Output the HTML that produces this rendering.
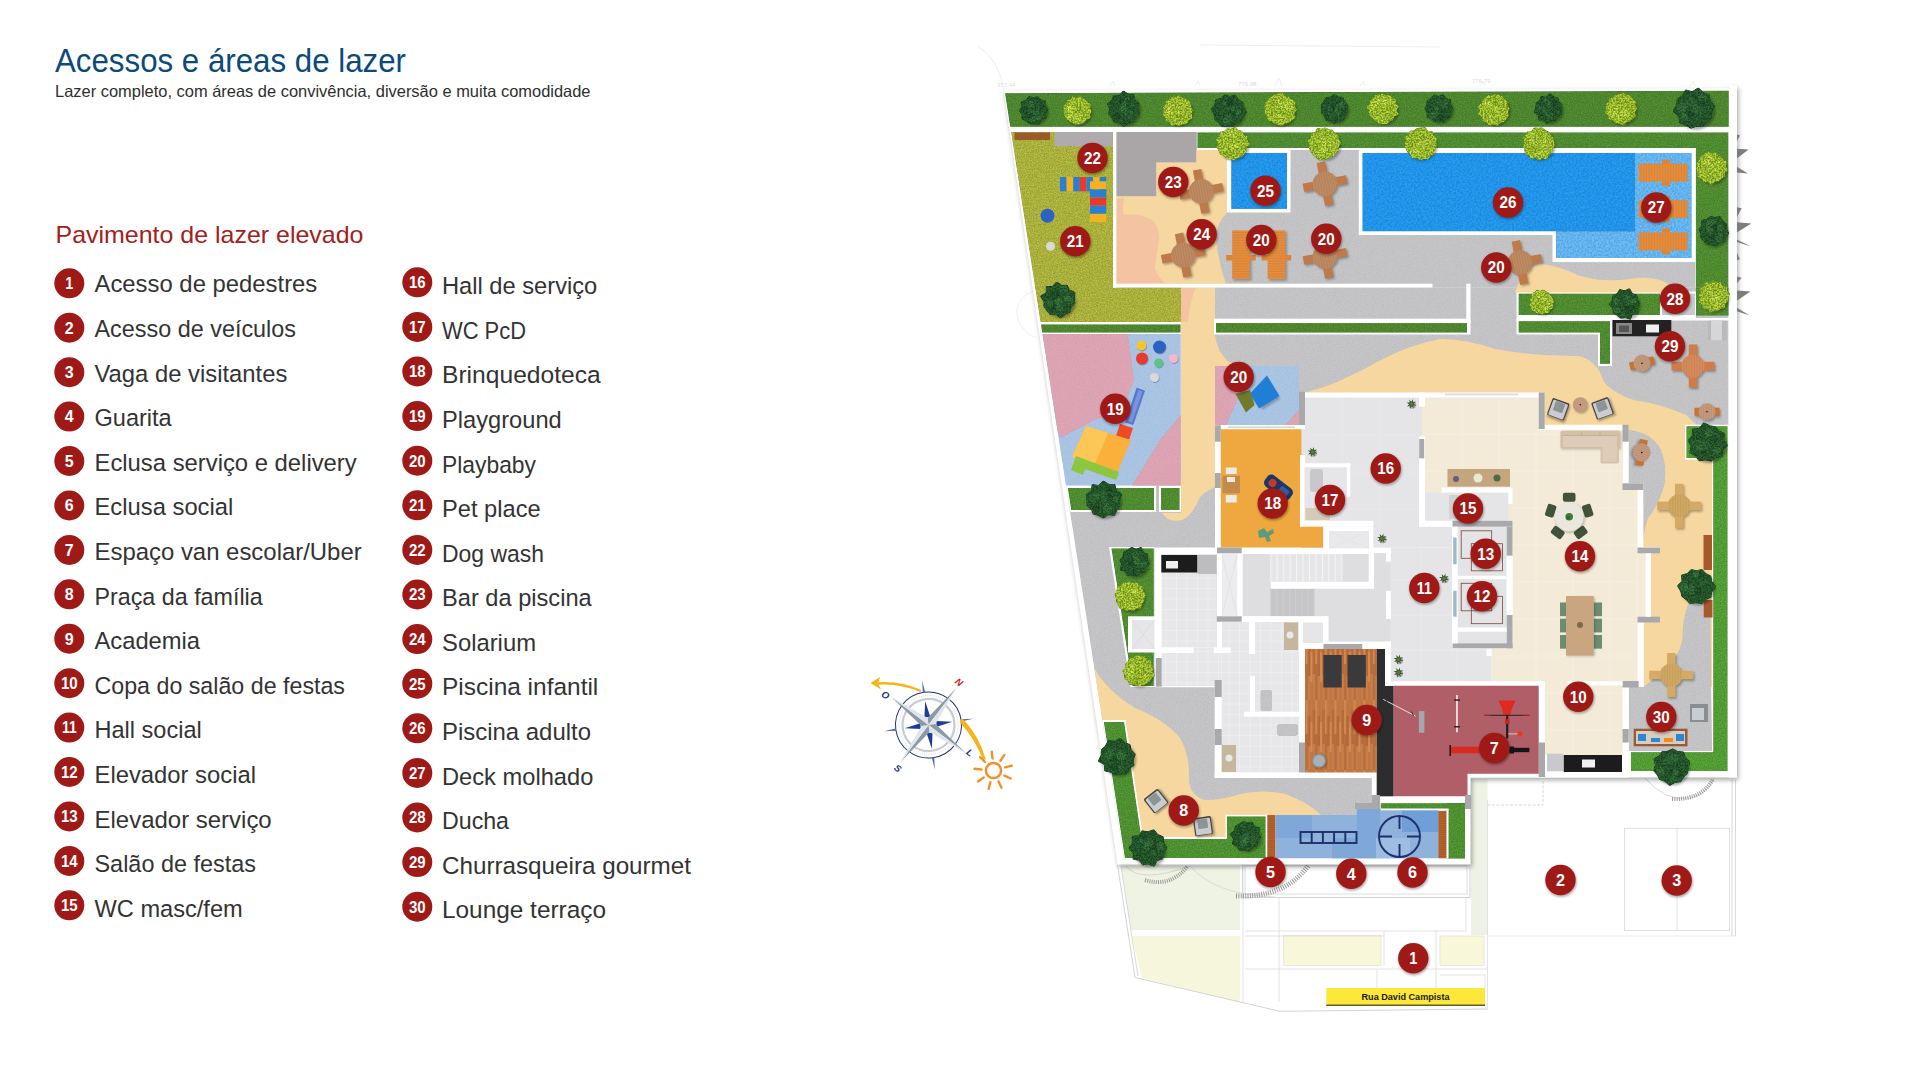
<!DOCTYPE html>
<html><head><meta charset="utf-8"><title>Acessos e áreas de lazer</title>
<style>
html,body{margin:0;padding:0;background:#fff;width:1920px;height:1080px;overflow:hidden}
svg{display:block;position:absolute;left:0;top:0}
text{font-family:"Liberation Sans",sans-serif}
</style></head><body>
<svg width="1920" height="1080" viewBox="0 0 1920 1080">
<defs>
<filter id="bl1" x="-30%" y="-30%" width="160%" height="160%"><feGaussianBlur stdDeviation="1.2"/></filter>
<filter id="bl2" x="-10%" y="-10%" width="120%" height="120%"><feGaussianBlur stdDeviation="2.5"/></filter>
<filter id="bl05" x="-10%" y="-10%" width="120%" height="120%"><feGaussianBlur stdDeviation="0.6"/></filter>
<filter id="grain" x="0" y="0" width="100%" height="100%">
 <feTurbulence type="fractalNoise" baseFrequency="0.9" numOctaves="2" seed="3" result="n"/>
 <feColorMatrix in="n" type="matrix" values="0 0 0 0 0  0 0 0 0 0  0 0 0 0 0  0.9 0.9 0.9 0 -1.05" result="a"/>
 <feComposite in="a" in2="SourceGraphic" operator="in"/>
</filter>
<filter id="texGrass" x="0" y="0" width="100%" height="100%" color-interpolation-filters="sRGB">
 <feTurbulence type="fractalNoise" baseFrequency="0.75" numOctaves="2" seed="5" result="n"/>
 <feColorMatrix in="n" type="matrix" values="2.2 0 0 0 -0.6  2.2 0 0 0 -0.6  2.2 0 0 0 -0.6  0 0 0 0 1" result="g"/>
 <feComposite in="SourceGraphic" in2="g" operator="arithmetic" k1="0.2" k2="0.9" k3="0" k4="0"/>
</filter>
<filter id="texLeaf" x="-10%" y="-10%" width="120%" height="120%" color-interpolation-filters="sRGB">
 <feTurbulence type="fractalNoise" baseFrequency="0.6" numOctaves="2" seed="11" result="n"/>
 <feColorMatrix in="n" type="matrix" values="3 0 0 0 -1  3 0 0 0 -1  3 0 0 0 -1  0 0 0 0 1" result="g"/>
 <feComposite in="SourceGraphic" in2="g" operator="arithmetic" k1="0.45" k2="0.78" k3="0" k4="0"/>
</filter>
<filter id="texWater" x="0" y="0" width="100%" height="100%" color-interpolation-filters="sRGB">
 <feTurbulence type="fractalNoise" baseFrequency="0.55" numOctaves="2" seed="9" result="n"/>
 <feColorMatrix in="n" type="matrix" values="2.4 0 0 0 -0.7  2.4 0 0 0 -0.7  2.4 0 0 0 -0.7  0 0 0 0 1" result="g"/>
 <feComposite in="SourceGraphic" in2="g" operator="arithmetic" k1="0.16" k2="0.93" k3="0" k4="0"/>
</filter>
<filter id="texPave" x="0" y="0" width="100%" height="100%" color-interpolation-filters="sRGB">
 <feTurbulence type="fractalNoise" baseFrequency="1.1" numOctaves="1" seed="2" result="n"/>
 <feColorMatrix in="n" type="matrix" values="2 0 0 0 -0.5  2 0 0 0 -0.5  2 0 0 0 -0.5  0 0 0 0 1" result="g"/>
 <feComposite in="SourceGraphic" in2="g" operator="arithmetic" k1="0.06" k2="0.97" k3="0" k4="0"/>
</filter>
<pattern id="wood" width="9.6" height="70" patternUnits="userSpaceOnUse">
 <rect width="9.6" height="70" fill="#c27843"/>
 <rect x="0" y="0" width="2.4" height="34" fill="#cf884e"/>
 <rect x="0" y="34" width="2.4" height="36" fill="#b96d3d"/>
 <rect x="2.4" y="16" width="2.4" height="30" fill="#b4683a"/>
 <rect x="2.4" y="46" width="2.4" height="24" fill="#ca8149"/>
 <rect x="4.8" y="0" width="2.4" height="22" fill="#c47a44"/>
 <rect x="4.8" y="22" width="2.4" height="30" fill="#d38d52"/>
 <rect x="7.2" y="10" width="2.4" height="34" fill="#b76b3c"/>
 <rect x="7.2" y="44" width="2.4" height="26" fill="#c87f47"/>
 <path d="M2.4,0V70M4.8,0V70M7.2,0V70M9.5,0V70" stroke="#a85f33" stroke-width="0.35" stroke-opacity="0.6"/>
</pattern>
<pattern id="tile" width="10.5" height="10.5" patternUnits="userSpaceOnUse">
 <rect width="10.5" height="10.5" fill="#e7e7e9"/>
 <path d="M0 0.25H10.5M0.25 0V10.5" stroke="#f2f2f4" stroke-width="0.7" fill="none"/>
</pattern>
</defs>
<g id="legend">
<text x="55" y="71.5" font-size="33" fill="#0b4a7a" textLength="351" lengthAdjust="spacingAndGlyphs">Acessos e áreas de lazer</text>
<text x="55" y="97" font-size="16.5" fill="#2e2e2e" textLength="535.5" lengthAdjust="spacingAndGlyphs">Lazer completo, com áreas de convivência, diversão e muita comodidade</text>
<text x="55.5" y="243.3" font-size="24" fill="#a32020" textLength="308" lengthAdjust="spacingAndGlyphs">Pavimento de lazer elevado</text>
<circle cx="69.3" cy="283.3" r="15.0" fill="#9f1a17"/><text x="69.3" y="289.1" font-size="16.1" font-weight="bold" fill="#fff" text-anchor="middle" textLength="8.0" lengthAdjust="spacingAndGlyphs">1</text>
<text x="94.5" y="292.3" font-size="24.5" fill="#333333" textLength="222.8" lengthAdjust="spacingAndGlyphs">Acesso de pedestres</text>
<circle cx="69.3" cy="327.7" r="15.0" fill="#9f1a17"/><text x="69.3" y="333.5" font-size="16.1" font-weight="bold" fill="#fff" text-anchor="middle" textLength="8.9" lengthAdjust="spacingAndGlyphs">2</text>
<text x="94.5" y="336.9" font-size="24.5" fill="#333333" textLength="201.5" lengthAdjust="spacingAndGlyphs">Acesso de veículos</text>
<circle cx="69.3" cy="372.2" r="15.0" fill="#9f1a17"/><text x="69.3" y="377.9" font-size="16.1" font-weight="bold" fill="#fff" text-anchor="middle" textLength="8.9" lengthAdjust="spacingAndGlyphs">3</text>
<text x="94.5" y="381.5" font-size="24.5" fill="#333333" textLength="192.8" lengthAdjust="spacingAndGlyphs">Vaga de visitantes</text>
<circle cx="69.3" cy="416.6" r="15.0" fill="#9f1a17"/><text x="69.3" y="422.4" font-size="16.1" font-weight="bold" fill="#fff" text-anchor="middle" textLength="8.9" lengthAdjust="spacingAndGlyphs">4</text>
<text x="94.5" y="426.1" font-size="24.5" fill="#333333" textLength="77.2" lengthAdjust="spacingAndGlyphs">Guarita</text>
<circle cx="69.3" cy="461.0" r="15.0" fill="#9f1a17"/><text x="69.3" y="466.8" font-size="16.1" font-weight="bold" fill="#fff" text-anchor="middle" textLength="8.9" lengthAdjust="spacingAndGlyphs">5</text>
<text x="94.5" y="470.7" font-size="24.5" fill="#333333" textLength="262.2" lengthAdjust="spacingAndGlyphs">Eclusa serviço e delivery</text>
<circle cx="69.3" cy="505.5" r="15.0" fill="#9f1a17"/><text x="69.3" y="511.2" font-size="16.1" font-weight="bold" fill="#fff" text-anchor="middle" textLength="8.9" lengthAdjust="spacingAndGlyphs">6</text>
<text x="94.5" y="515.3" font-size="24.5" fill="#333333" textLength="138.8" lengthAdjust="spacingAndGlyphs">Eclusa social</text>
<circle cx="69.3" cy="549.9" r="15.0" fill="#9f1a17"/><text x="69.3" y="555.7" font-size="16.1" font-weight="bold" fill="#fff" text-anchor="middle" textLength="8.9" lengthAdjust="spacingAndGlyphs">7</text>
<text x="94.5" y="559.9" font-size="24.5" fill="#333333" textLength="267.2" lengthAdjust="spacingAndGlyphs">Espaço van escolar/Uber</text>
<circle cx="69.3" cy="594.3" r="15.0" fill="#9f1a17"/><text x="69.3" y="600.1" font-size="16.1" font-weight="bold" fill="#fff" text-anchor="middle" textLength="8.9" lengthAdjust="spacingAndGlyphs">8</text>
<text x="94.5" y="604.5" font-size="24.5" fill="#333333" textLength="168.2" lengthAdjust="spacingAndGlyphs">Praça da família</text>
<circle cx="69.3" cy="638.7" r="15.0" fill="#9f1a17"/><text x="69.3" y="644.5" font-size="16.1" font-weight="bold" fill="#fff" text-anchor="middle" textLength="8.9" lengthAdjust="spacingAndGlyphs">9</text>
<text x="94.5" y="649.1" font-size="24.5" fill="#333333" textLength="105.5" lengthAdjust="spacingAndGlyphs">Academia</text>
<circle cx="69.3" cy="683.2" r="15.0" fill="#9f1a17"/><text x="69.3" y="688.9" font-size="16.1" font-weight="bold" fill="#fff" text-anchor="middle" textLength="16.7" lengthAdjust="spacingAndGlyphs">10</text>
<text x="94.5" y="693.7" font-size="24.5" fill="#333333" textLength="250.5" lengthAdjust="spacingAndGlyphs">Copa do salão de festas</text>
<circle cx="69.3" cy="727.6" r="15.0" fill="#9f1a17"/><text x="69.3" y="733.4" font-size="16.1" font-weight="bold" fill="#fff" text-anchor="middle" textLength="14.8" lengthAdjust="spacingAndGlyphs">11</text>
<text x="94.5" y="738.3" font-size="24.5" fill="#333333" textLength="107.2" lengthAdjust="spacingAndGlyphs">Hall social</text>
<circle cx="69.3" cy="772.0" r="15.0" fill="#9f1a17"/><text x="69.3" y="777.8" font-size="16.1" font-weight="bold" fill="#fff" text-anchor="middle" textLength="16.7" lengthAdjust="spacingAndGlyphs">12</text>
<text x="94.5" y="782.9" font-size="24.5" fill="#333333" textLength="161.5" lengthAdjust="spacingAndGlyphs">Elevador social</text>
<circle cx="69.3" cy="816.5" r="15.0" fill="#9f1a17"/><text x="69.3" y="822.2" font-size="16.1" font-weight="bold" fill="#fff" text-anchor="middle" textLength="16.7" lengthAdjust="spacingAndGlyphs">13</text>
<text x="94.5" y="827.5" font-size="24.5" fill="#333333" textLength="177.2" lengthAdjust="spacingAndGlyphs">Elevador serviço</text>
<circle cx="69.3" cy="860.9" r="15.0" fill="#9f1a17"/><text x="69.3" y="866.7" font-size="16.1" font-weight="bold" fill="#fff" text-anchor="middle" textLength="16.7" lengthAdjust="spacingAndGlyphs">14</text>
<text x="94.5" y="872.1" font-size="24.5" fill="#333333" textLength="161.5" lengthAdjust="spacingAndGlyphs">Salão de festas</text>
<circle cx="69.3" cy="905.3" r="15.0" fill="#9f1a17"/><text x="69.3" y="911.1" font-size="16.1" font-weight="bold" fill="#fff" text-anchor="middle" textLength="16.7" lengthAdjust="spacingAndGlyphs">15</text>
<text x="94.5" y="916.7" font-size="24.5" fill="#333333" textLength="148.2" lengthAdjust="spacingAndGlyphs">WC masc/fem</text>
<circle cx="417.3" cy="282.3" r="15.0" fill="#9f1a17"/><text x="417.3" y="288.1" font-size="16.1" font-weight="bold" fill="#fff" text-anchor="middle" textLength="16.7" lengthAdjust="spacingAndGlyphs">16</text>
<text x="442" y="294.3" font-size="24.5" fill="#333333" textLength="155.3" lengthAdjust="spacingAndGlyphs">Hall de serviço</text>
<circle cx="417.3" cy="326.9" r="15.0" fill="#9f1a17"/><text x="417.3" y="332.7" font-size="16.1" font-weight="bold" fill="#fff" text-anchor="middle" textLength="16.7" lengthAdjust="spacingAndGlyphs">17</text>
<text x="442" y="338.9" font-size="24.5" fill="#333333" textLength="84.0" lengthAdjust="spacingAndGlyphs">WC PcD</text>
<circle cx="417.3" cy="371.5" r="15.0" fill="#9f1a17"/><text x="417.3" y="377.3" font-size="16.1" font-weight="bold" fill="#fff" text-anchor="middle" textLength="16.7" lengthAdjust="spacingAndGlyphs">18</text>
<text x="442" y="383.4" font-size="24.5" fill="#333333" textLength="158.7" lengthAdjust="spacingAndGlyphs">Brinquedoteca</text>
<circle cx="417.3" cy="416.1" r="15.0" fill="#9f1a17"/><text x="417.3" y="421.9" font-size="16.1" font-weight="bold" fill="#fff" text-anchor="middle" textLength="16.7" lengthAdjust="spacingAndGlyphs">19</text>
<text x="442" y="428.0" font-size="24.5" fill="#333333" textLength="119.7" lengthAdjust="spacingAndGlyphs">Playground</text>
<circle cx="417.3" cy="460.7" r="15.0" fill="#9f1a17"/><text x="417.3" y="466.5" font-size="16.1" font-weight="bold" fill="#fff" text-anchor="middle" textLength="16.7" lengthAdjust="spacingAndGlyphs">20</text>
<text x="442" y="472.6" font-size="24.5" fill="#333333" textLength="94.0" lengthAdjust="spacingAndGlyphs">Playbaby</text>
<circle cx="417.3" cy="505.3" r="15.0" fill="#9f1a17"/><text x="417.3" y="511.1" font-size="16.1" font-weight="bold" fill="#fff" text-anchor="middle" textLength="16.7" lengthAdjust="spacingAndGlyphs">21</text>
<text x="442" y="517.1" font-size="24.5" fill="#333333" textLength="98.7" lengthAdjust="spacingAndGlyphs">Pet place</text>
<circle cx="417.3" cy="549.9" r="15.0" fill="#9f1a17"/><text x="417.3" y="555.7" font-size="16.1" font-weight="bold" fill="#fff" text-anchor="middle" textLength="16.7" lengthAdjust="spacingAndGlyphs">22</text>
<text x="442" y="561.7" font-size="24.5" fill="#333333" textLength="102.0" lengthAdjust="spacingAndGlyphs">Dog wash</text>
<circle cx="417.3" cy="594.5" r="15.0" fill="#9f1a17"/><text x="417.3" y="600.3" font-size="16.1" font-weight="bold" fill="#fff" text-anchor="middle" textLength="16.7" lengthAdjust="spacingAndGlyphs">23</text>
<text x="442" y="606.3" font-size="24.5" fill="#333333" textLength="149.7" lengthAdjust="spacingAndGlyphs">Bar da piscina</text>
<circle cx="417.3" cy="639.1" r="15.0" fill="#9f1a17"/><text x="417.3" y="644.9" font-size="16.1" font-weight="bold" fill="#fff" text-anchor="middle" textLength="16.7" lengthAdjust="spacingAndGlyphs">24</text>
<text x="442" y="650.9" font-size="24.5" fill="#333333" textLength="94.0" lengthAdjust="spacingAndGlyphs">Solarium</text>
<circle cx="417.3" cy="683.7" r="15.0" fill="#9f1a17"/><text x="417.3" y="689.5" font-size="16.1" font-weight="bold" fill="#fff" text-anchor="middle" textLength="16.7" lengthAdjust="spacingAndGlyphs">25</text>
<text x="442" y="695.4" font-size="24.5" fill="#333333" textLength="156.3" lengthAdjust="spacingAndGlyphs">Piscina infantil</text>
<circle cx="417.3" cy="728.3" r="15.0" fill="#9f1a17"/><text x="417.3" y="734.1" font-size="16.1" font-weight="bold" fill="#fff" text-anchor="middle" textLength="16.7" lengthAdjust="spacingAndGlyphs">26</text>
<text x="442" y="740.0" font-size="24.5" fill="#333333" textLength="149.0" lengthAdjust="spacingAndGlyphs">Piscina adulto</text>
<circle cx="417.3" cy="772.9" r="15.0" fill="#9f1a17"/><text x="417.3" y="778.7" font-size="16.1" font-weight="bold" fill="#fff" text-anchor="middle" textLength="16.7" lengthAdjust="spacingAndGlyphs">27</text>
<text x="442" y="784.6" font-size="24.5" fill="#333333" textLength="151.3" lengthAdjust="spacingAndGlyphs">Deck molhado</text>
<circle cx="417.3" cy="817.5" r="15.0" fill="#9f1a17"/><text x="417.3" y="823.3" font-size="16.1" font-weight="bold" fill="#fff" text-anchor="middle" textLength="16.7" lengthAdjust="spacingAndGlyphs">28</text>
<text x="442" y="829.1" font-size="24.5" fill="#333333" textLength="67.0" lengthAdjust="spacingAndGlyphs">Ducha</text>
<circle cx="417.3" cy="862.1" r="15.0" fill="#9f1a17"/><text x="417.3" y="867.9" font-size="16.1" font-weight="bold" fill="#fff" text-anchor="middle" textLength="16.7" lengthAdjust="spacingAndGlyphs">29</text>
<text x="442" y="873.7" font-size="24.5" fill="#333333" textLength="249.0" lengthAdjust="spacingAndGlyphs">Churrasqueira gourmet</text>
<circle cx="417.3" cy="906.7" r="15.0" fill="#9f1a17"/><text x="417.3" y="912.5" font-size="16.1" font-weight="bold" fill="#fff" text-anchor="middle" textLength="16.7" lengthAdjust="spacingAndGlyphs">30</text>
<text x="442" y="918.3" font-size="24.5" fill="#333333" textLength="164.0" lengthAdjust="spacingAndGlyphs">Lounge terraço</text>
</g>
<g id="site" fill="none" stroke="#d9d9d9" stroke-width="0.8">
<polygon points="1121.0,866.0 1240.0,866.0 1240.0,930.0 1131.0,930.0" fill="#eef3e3" stroke="none"/>
<polygon points="1132.0,936.0 1240.0,936.0 1240.0,1002.0 1142.0,978.0" fill="#f6f6dc" stroke="none"/>
<rect x="1283.7" y="935.5" width="97.3" height="30.0" fill="#f8f7da" stroke="#e3e3d8"/>
<rect x="1440.0" y="936.0" width="44.0" height="29.5" fill="#f8f7da" stroke="#e3e3d8"/>
<rect x="1471.0" y="779.0" width="16.5" height="156.0" fill="#eef2e4" stroke="none"/>
<rect x="1242.5" y="865.0" width="227.5" height="32.5" fill="none" stroke="#c9c9c9"/>
<rect x="1245.0" y="866.0" width="222.0" height="28.0" fill="none" stroke="#d5d5d5"/>
<path d="M1117.5,865L1135,977.5L1280,1011.3L1488,1009" stroke="#c8c8c8"/>
<path d="M1121,866L1138,976" stroke="#d0d0d0"/>
<path d="M1243,865V1003M1279,897V1002M1245,931H1466M1245,936H1384M1245,969H1487M1377,969V988M1384,931V966M1436,931V988M1440,975H1485V988M1466,897V931M1487.5,800V1009" stroke="#dcdcdc"/>
<path d="M1487.5,936H1736" stroke="#e4e4e4"/>
<rect x="1624.5" y="828.3" width="105.0" height="102.2" fill="none" stroke="#d8d8d8"/>
<path d="M1677,828V930.5" stroke="#dadada"/>
<path d="M1732,780V936M1735.5,780V936" stroke="#cfcfcf"/>
<path d="M1487.5,805H1543V780" stroke="#cfcfcf" stroke-dasharray="3 1.5"/>
<path d="M1126,866Q1140,884 1190,866" stroke="#cfcfcf"/>
<path d="M1190,866Q1215,895 1275,897" stroke="#d5d5d5"/>
<path d="M1145,880Q1170,888 1188,866" stroke="#999" stroke-width="4" stroke-dasharray="1 1.2"/>
<path d="M1236,896Q1285,898 1308,866" stroke="#999" stroke-width="5" stroke-dasharray="1 1.3"/>
<path d="M1645,778Q1665,802 1690,798Q1708,794 1714,778" stroke="#cfcfcf"/>
<path d="M1672,799Q1702,800 1713,779" stroke="#999" stroke-width="4" stroke-dasharray="1 1.2"/>
</g>
<g stroke="#e6e6e6" stroke-width="0.7" fill="none"><path d="M978,46Q1000,60 1004,92M1200,45L1440,47M998,86L1002,84M1110,86l3,-5l2,5M1195,86l3,-5l2,5M1275,86l4,-8l3,8M1360,86l3,-5l2,5M1480,86l3,-5l2,5M1690,86l3,-5l2,5"/></g>
<text x="997" y="87" font-size="6" fill="#dcdcdc">777.44</text><text x="1238" y="86" font-size="6" fill="#d8d8d8">776.98</text><text x="1472" y="83" font-size="6" fill="#dcdcdc">776.79</text>
<path d="M1035,290Q1012,300 1018,320Q1025,335 1037,338" fill="none" stroke="#e6e6e6" stroke-width="0.7"/>
<polygon points="1003.5,90.5 1729.0,88.3 1729.0,85.5 1736.8,85.5 1736.8,777.5 1470.5,777.5 1470.5,864.5 1117.5,864.5" fill="#000" opacity="0.35" filter="url(#bl2)" transform="translate(1.5,2.5)"/>
<polygon points="1003.5,90.5 1729.0,88.3 1729.0,85.5 1736.8,85.5 1736.8,777.5 1470.5,777.5 1470.5,864.5 1117.5,864.5" fill="#ffffff" />
<polygon points="1736.8,134.3 1740.0,135.5 1736.8,141.3" fill="#7d7d7d" />
<polygon points="1736.8,148.7 1748.6,149.4 1736.8,158.6" fill="#7d7d7d" />
<polygon points="1736.8,166.7 1748.0,173.6 1736.8,172.5" fill="#7d7d7d" />
<polygon points="1736.8,207.2 1741.6,208.3 1736.8,217.6" fill="#7d7d7d" />
<polygon points="1736.8,222.2 1751.3,223.4 1736.8,232.6" fill="#7d7d7d" />
<polygon points="1736.8,239.5 1750.9,246.5 1736.8,242.0" fill="#7d7d7d" />
<polygon points="1736.8,252.3 1739.8,259.2 1736.8,260.3" fill="#7d7d7d" />
<polygon points="1736.8,276.5 1741.6,277.7 1736.8,283.5" fill="#7d7d7d" />
<polygon points="1736.8,290.4 1750.4,291.6 1736.8,300.8" fill="#7d7d7d" />
<polygon points="1736.8,307.7 1749.7,315.4 1736.8,311.2" fill="#7d7d7d" />
<rect x="1729.0" y="85.5" width="7.8" height="692.0" fill="#ffffff" />
<polygon points="1005.1,93.2 1728.7,90.8 1728.7,126.8 1010.3,126.8" fill="#4d862e"  filter="url(#texGrass)"/>
<polygon points="1197.5,132.5 1728.3,132.5 1728.3,315.5 1696.0,315.5 1696.0,148.0 1197.5,148.0" fill="#4f8b30"  filter="url(#texGrass)"/>
<rect x="1116.3" y="132.0" width="80.7" height="18.0" fill="#c3c3c6"  filter="url(#texPave)"/>
<rect x="1116.3" y="150.0" width="579.2" height="137.5" fill="#c3c3c6"  filter="url(#texPave)"/>
<polygon points="1181.0,287.5 1728.3,287.5 1728.3,425.0 1628.0,425.0 1628.0,430.0 1544.0,430.0 1544.0,392.5 1305.0,392.5 1305.0,425.0 1215.0,425.0 1215.0,548.0 1155.0,548.0 1155.0,687.0 1215.0,687.0 1215.0,778.0 1371.7,778.0 1371.7,809.0 1356.7,809.0 1356.7,815.0 1270.0,815.0 1270.0,859.0 1124.0,859.0 1066.1,486.0 1181.0,486.0" fill="#c3c3c6"  filter="url(#texPave)"/>
<polygon points="1011.2,132.0 1113.0,132.0 1113.0,287.5 1181.0,287.5 1181.0,322.0 1040.6,322.0" fill="#aab03c"  filter="url(#texGrass)"/>
<rect x="1014.5" y="132.5" width="35.5" height="7.5" fill="#9a5a2a" />
<rect x="1054.5" y="132.0" width="58.0" height="14.3" fill="#aeaaad" />
<polygon points="1040.6,322.0 1181.0,322.0 1181.0,334.0 1042.5,334.0" fill="#fff" />
<polygon points="1041.0,324.5 1180.5,324.5 1180.5,332.5 1042.3,332.5" fill="#4d862e"  filter="url(#texGrass)"/>
<polygon points="1116.3,132.0 1196.3,132.0 1196.3,162.5 1156.3,162.5 1156.3,196.3 1116.3,196.3" fill="#aaa5a7" />
<path d="M1116.3,196.3H1156.3V162.5H1196.3V150H1227V212.5Q1214,226 1216.5,243Q1219,265 1226,283.7H1116.3Z" fill="#f6d79f" />
<path d="M1116.3,198.3H1124Q1122,210 1124,215Q1140,213 1152,220Q1160,228 1159,240Q1156,258 1155,268Q1158,278 1166,283.7H1116.3Z" fill="#f3c3a2" />
<path d="M1181,287.5H1215V335Q1217,352 1228,361Q1234,365 1240,366H1215V487Q1206,491 1200,497Q1192,516 1182,520Q1168,523 1162,513H1181Z" fill="#f6d79f" />
<path d="M1181,287.5H1196Q1190,300 1188,322H1181Z" fill="#f3c3a2" />
<rect x="1227.0" y="149.5" width="63.5" height="63.0" fill="#fff" />
<rect x="1231.3" y="153.0" width="55.7" height="55.8" fill="#2192e6"  filter="url(#texWater)"/>
<polygon points="1358.8,148.8 1695.5,148.8 1695.5,262.0 1552.5,262.0 1552.5,235.0 1358.8,235.0" fill="#fff" />
<polygon points="1362.5,153.0 1691.3,153.0 1691.3,258.0 1556.3,258.0 1556.3,231.3 1362.5,231.3" fill="#2192e6"  filter="url(#texWater)"/>
<polygon points="1635.0,153.0 1691.3,153.0 1691.3,258.0 1556.3,258.0 1556.3,231.3 1635.0,231.3" fill="#62b1ec"  filter="url(#texWater)"/>
<rect x="1113.0" y="132.0" width="3.3" height="155.5" fill="#fff" />
<rect x="1113.0" y="283.7" width="319.5" height="3.8" fill="#fff" />
<rect x="1466.3" y="283.7" width="4.2" height="38.8" fill="#fff" />
<rect x="1214.0" y="318.7" width="256.5" height="15.8" fill="#fff" />
<rect x="1216.0" y="323.2" width="251.0" height="9.3" fill="#4d862e"  filter="url(#texGrass)"/>
<rect x="1516.5" y="291.5" width="179.5" height="26.5" fill="#fff" />
<rect x="1518.7" y="293.7" width="141.3" height="21.3" fill="#4f8b30"  filter="url(#texGrass)"/>
<rect x="1662.0" y="293.7" width="33.0" height="21.3" fill="#c9c9cc" />
<rect x="1696.0" y="287.5" width="32.3" height="28.0" fill="#4f8b30"  filter="url(#texGrass)"/>
<rect x="1516.5" y="318.0" width="212.2" height="2.5" fill="#fff" />
<polygon points="1516.5,319.0 1612.0,319.0 1612.0,366.0 1598.0,366.0 1598.0,334.5 1516.5,334.5" fill="#fff" />
<polygon points="1518.7,321.3 1610.0,321.3 1610.0,363.7 1600.0,363.7 1600.0,332.5 1518.7,332.5" fill="#4f8b30"  filter="url(#texGrass)"/>
<path d="M1515,292.5Q1522,270 1540,263.7Q1560,266 1577.5,275Q1600,283 1630,279Q1655,275 1668,284V292.5Z" fill="#f6d79f" />
<path d="M1305,392.5 Q1318,389 1335,383 Q1360,372 1385,358 Q1410,345 1440,339 Q1462,338 1495,349 Q1540,357 1580,356 Q1598,362 1603,380 Q1610,392 1634,400 Q1665,405 1686,415 L1697,425 L1685,425 V459.5 H1712 V687 L1643.7,687 V553 H1660 V547 H1643.3 V490 H1643.3 V483.3 H1628.3 V425 H1544.5 V392.5 Z" fill="#f6d79f" />
<rect x="1215.0" y="366.0" width="84.0" height="59.0" fill="#a9c3e2"  filter="url(#texPave)"/>
<polygon points="1215.0,366.0 1232.0,366.0 1241.0,392.0 1226.0,425.0 1215.0,425.0" fill="#dca3b3"  filter="url(#texPave)"/>
<polygon points="1299.0,410.0 1299.0,425.0 1285.0,425.0" fill="#dca3b3"  filter="url(#texPave)"/>
<path d="M1628.3,430 Q1650,432 1660,448 Q1668,466 1664,486 Q1658,506 1648,518 Q1643,530 1643.3,547 V483.3 H1628.3 Z" fill="#c3c3c6"  filter="url(#texPave)"/>
<path d="M1710,600 L1689,602 Q1682,620 1682.5,640 Q1678,660 1662,673 Q1650,682 1643.7,687 H1628.7 V751 H1712 Z" fill="#c3c3c6"  filter="url(#texPave)"/>
<polygon points="1685.0,424.7 1728.3,424.7 1728.3,771.5 1630.0,771.5 1630.0,751.0 1712.0,751.0 1712.0,459.5 1685.0,459.5" fill="#fff" />
<polygon points="1686.5,426.2 1727.5,426.2 1727.5,771.0 1631.0,771.0 1631.0,752.3 1713.3,752.3 1713.3,458.0 1686.5,458.0" fill="#529c34"  filter="url(#texGrass)"/>
<polygon points="1042.5,334.0 1180.7,334.0 1180.7,485.5 1066.0,485.5" fill="#a9c3e2"  filter="url(#texPave)"/>
<polygon points="1042.5,334.0 1128.0,334.0 1134.0,380.0 1122.0,410.0 1094.0,420.0 1060.6,438.0 1057.4,430.0" fill="#dca3b3"  filter="url(#texPave)"/>
<polygon points="1180.7,415.0 1180.7,485.5 1132.0,485.5 1160.0,440.0" fill="#dca3b3"  filter="url(#texPave)"/>
<polygon points="1066.1,486.0 1156.0,486.0 1156.0,512.0 1070.1,512.0" fill="#fff" />
<polygon points="1067.9,488.0 1154.0,488.0 1154.0,510.0 1071.3,510.0" fill="#4f8b30"  filter="url(#texGrass)"/>
<rect x="1159.0" y="486.0" width="22.0" height="26.0" fill="#fff" />
<rect x="1161.0" y="488.0" width="18.5" height="22.0" fill="#4f8b30"  filter="url(#texGrass)"/>
<polygon points="1109.0,547.0 1154.5,547.0 1154.5,687.0 1130.5,687.0" fill="#fff" />
<polygon points="1111.5,548.5 1153.7,548.5 1153.7,686.0 1132.7,686.0" fill="#4f8b30"  filter="url(#texGrass)"/>
<rect x="1128.0" y="616.3" width="28.3" height="36.2" fill="#fff" />
<rect x="1132.0" y="620.0" width="22.5" height="29.0" fill="#e6e6e8" />
<path d="M1132,620L1154.5,649M1154.5,620L1132,649" stroke="#d6d6d8" stroke-width="0.6"/>
<path d="M1094.3,668 Q1106,690 1135,708 Q1165,720 1180,738 Q1190,755 1189,780 Q1190,796 1205,800 Q1222,800 1240,794 Q1262,789 1285,794 Q1308,802 1321,815 H1226.5 V838 H1142 L1125,721 L1102.6,721 Z" fill="#f6d79f" />
<polygon points="1102.4,720.0 1125.5,720.0 1143.0,837.0 1225.5,837.0 1225.5,814.7 1267.0,814.7 1267.0,859.5 1124.1,859.5" fill="#fff" />
<polygon points="1103.9,722.0 1124.0,722.0 1141.5,839.0 1227.0,839.0 1227.0,816.5 1265.5,816.5 1265.5,858.0 1125.0,858.0" fill="#4e9031"  filter="url(#texGrass)"/>
<rect x="1267.5" y="815.0" width="8.0" height="42.0" fill="#b5632f" />
<polygon points="1275.8,815.0 1356.7,815.0 1356.7,809.0 1438.3,809.0 1438.3,858.3 1275.8,858.3" fill="#8fb2dc" />
<rect x="1275.8" y="815.0" width="36.2" height="23.0" fill="#7fa8d8" />
<rect x="1332.0" y="838.0" width="44.0" height="20.3" fill="#7fa8d8" />
<rect x="1356.7" y="809.0" width="23.3" height="29.0" fill="#7fa8d8" />
<rect x="1402.0" y="809.0" width="36.3" height="23.0" fill="#6f9fd6" />
<rect x="1376.0" y="838.0" width="34.0" height="20.3" fill="#9dbde2" />
<rect x="1438.3" y="810.8" width="8.2" height="47.5" fill="#b5632f" />
<rect x="1446.5" y="803.0" width="18.5" height="55.5" fill="#4e9031"  filter="url(#texGrass)"/>
<rect x="1380.8" y="803.3" width="84.2" height="5.7" fill="#4e9031"  filter="url(#texGrass)"/>
<rect x="1446.5" y="809.0" width="2.0" height="49.5" fill="#fff" />
<rect x="1380.8" y="808.5" width="67.7" height="1.8" fill="#fff" />
<path d="M1267.5,816.5h8M1267.5,818.7h8M1267.5,820.9h8M1267.5,823.1h8M1267.5,825.3h8M1267.5,827.5h8M1267.5,829.7h8M1267.5,831.9h8M1267.5,834.1h8M1267.5,836.3h8M1267.5,838.5h8M1267.5,840.7h8M1267.5,842.9h8M1267.5,845.1h8M1267.5,847.3h8M1267.5,849.5h8M1267.5,851.7h8M1267.5,853.9h8M1267.5,856.1h8M1438.3,812.5h8.2M1438.3,814.7h8.2M1438.3,816.9h8.2M1438.3,819.1h8.2M1438.3,821.3h8.2M1438.3,823.5h8.2M1438.3,825.7h8.2M1438.3,827.9h8.2M1438.3,830.1h8.2M1438.3,832.3h8.2M1438.3,834.5h8.2M1438.3,836.7h8.2M1438.3,838.9h8.2M1438.3,841.1h8.2M1438.3,843.3h8.2M1438.3,845.5h8.2M1438.3,847.7h8.2M1438.3,849.9h8.2M1438.3,852.1h8.2M1438.3,854.3h8.2M1438.3,856.5h8.2" stroke="#8f4a22" stroke-width="0.5" stroke-opacity="0.7" fill="none"/>
<g fill="none" stroke="#1e2f6e" stroke-width="1.9"><rect x="1300.5" y="832.0" width="56.0" height="11.0" fill="none" /><path d="M1311.7,832V843M1322.9,832V843M1334.1,832V843M1345.3,832V843"/><circle cx="1399.5" cy="836.5" r="20.5"/><path d="M1399.5,816V829M1399.5,844V857M1379,836.5H1392M1407,836.5H1420"/></g>
<polygon points="1215.0,425.0 1305.0,425.0 1305.0,392.5 1544.7,392.5 1544.7,424.7 1628.7,424.7 1628.7,483.3 1643.3,483.3 1643.3,553.0 1651.0,553.0 1651.0,616.5 1643.3,616.5 1643.3,686.3 1628.7,686.3 1628.7,777.5 1467.5,777.5 1467.5,801.7 1376.7,801.7 1376.7,778.0 1214.7,778.0 1214.7,687.2 1155.8,687.2 1155.8,547.5 1215.0,547.5" fill="#ffffff" />
<polygon points="1220.8,429.2 1301.7,429.2 1301.7,526.7 1323.3,526.7 1323.3,547.5 1220.8,547.5" fill="#eea83f" />
<rect x="1215.0" y="425.3" width="5.8" height="16.4" fill="#a9a9ab" />
<rect x="1215.0" y="473.0" width="5.8" height="15.0" fill="#a9a9ab" />
<rect x="1217.0" y="547.5" width="24.7" height="5.8" fill="#a9a9ab" />
<rect x="1299.0" y="391.7" width="6.0" height="33.3" fill="#a9a9ab" />
<rect x="1228.0" y="426.3" width="67.0" height="1.7" fill="#d9d9d9" />
<rect x="1305.0" y="397.5" width="114.0" height="150.0" fill="#e5e5e8" />
<rect x="1301.7" y="429.2" width="3.3" height="25.8" fill="#e5e5e8" />
<path d="M1305,435H1419M1305,472H1419M1305,509H1419M1342,397.5V547M1380,397.5V547" stroke="#eaeaec" stroke-width="0.7" fill="none"/>
<rect x="1300.0" y="455.0" width="4.5" height="71.7" fill="#ffffff" />
<rect x="1304.0" y="463.3" width="46.3" height="4.2" fill="#ffffff" />
<rect x="1346.7" y="463.3" width="3.6" height="33.4" fill="#ffffff" />
<rect x="1304.5" y="467.5" width="42.2" height="53.3" fill="#e6e6e9" />
<rect x="1300.0" y="520.8" width="73.3" height="5.9" fill="#ffffff" />
<rect x="1301.7" y="526.7" width="21.6" height="20.8" fill="#eea83f" />
<rect x="1323.3" y="526.7" width="50.0" height="26.3" fill="#ffffff" />
<rect x="1329.0" y="531.0" width="40.0" height="17.3" fill="#e9e9eb" />
<path d="M1329,531L1369,548.3M1369,531L1329,548.3" stroke="#dededf" stroke-width="0.5"/>
<rect x="1419.0" y="392.5" width="6.0" height="14.2" fill="#ffffff" />
<rect x="1419.0" y="406.7" width="3.0" height="30.0" fill="#e5e5e8" />
<rect x="1422.0" y="406.7" width="3.0" height="30.0" fill="#f3ead7" />
<rect x="1419.0" y="436.7" width="6.0" height="89.3" fill="#ffffff" />
<rect x="1419.2" y="439.0" width="5.0" height="19.3" fill="#a9a9ab" />
<rect x="1374.0" y="526.7" width="78.0" height="20.8" fill="#e5e5e8" />
<polygon points="1390.8,547.5 1452.0,547.5 1452.0,648.7 1491.7,648.7 1491.7,681.3 1390.8,681.3" fill="#e5e5e8" />
<path d="M1390.8,580H1452M1390.8,615H1452M1390.8,650H1491M1421,547V681M1457,649V681" stroke="#ececee" stroke-width="0.7" fill="none"/>
<rect x="1374.2" y="553.3" width="16.6" height="45.7" fill="#dedee1" />
<rect x="1369.0" y="547.5" width="5.2" height="56.5" fill="#ffffff" />
<rect x="1369.0" y="548.3" width="21.8" height="5.0" fill="#ffffff" />
<rect x="1369.0" y="599.0" width="21.8" height="5.0" fill="#ffffff" />
<rect x="1385.8" y="549.0" width="5.0" height="12.7" fill="#ffffff" />
<rect x="1385.8" y="590.8" width="5.0" height="28.2" fill="#ffffff" />
<rect x="1374.2" y="553.3" width="11.6" height="45.7" fill="#dedee1" />
<rect x="1328.3" y="588.7" width="57.5" height="53.0" fill="#dedee1" />
<rect x="1374.2" y="604.0" width="11.6" height="37.7" fill="#dedee1" />
<rect x="1385.8" y="619.0" width="5.0" height="22.7" fill="#dedee1" />
<polygon points="1425.0,397.5 1538.7,397.5 1538.7,429.7 1623.0,429.7 1623.0,490.0 1637.5,490.0 1637.5,681.3 1622.5,681.3 1622.5,755.0 1545.0,755.0 1545.0,681.3 1491.7,681.3 1491.7,648.7 1512.5,648.7 1512.5,520.8 1452.5,520.8 1452.5,526.0 1425.0,526.0" fill="#f3ead7" />
<rect x="1637.5" y="553.3" width="8.3" height="63.4" fill="#f3ead7" />
<path d="M1425,434H1623M1425,471H1623M1512,508H1637M1512,545H1637M1512,582H1637M1512,619H1637M1491,656H1637M1545,693H1622M1545,730H1622M1462,397V470M1499,397V470M1536,430V681M1573,430V755M1610,430V755" stroke="#f8f1e2" stroke-width="0.8" fill="none"/>
<rect x="1425.0" y="492.5" width="83.3" height="28.3" fill="#e5e5e8" />
<rect x="1441.7" y="487.5" width="70.8" height="5.0" fill="#ffffff" />
<rect x="1508.3" y="492.5" width="4.2" height="11.5" fill="#ffffff" />
<rect x="1419.0" y="520.8" width="33.5" height="5.9" fill="#ffffff" />
<rect x="1449.0" y="495.0" width="21.0" height="24.0" fill="#d2d2d5" />
<rect x="1457.5" y="526.7" width="49.2" height="116.6" fill="#e4e4e7" />
<rect x="1452.5" y="520.8" width="60.0" height="5.9" fill="#a9a9ab" />
<rect x="1506.7" y="526.7" width="5.8" height="29.1" fill="#a9a9ab" />
<rect x="1506.7" y="615.0" width="5.8" height="33.3" fill="#a9a9ab" />
<rect x="1452.5" y="643.3" width="60.0" height="5.0" fill="#a9a9ab" />
<rect x="1506.7" y="555.8" width="5.8" height="59.2" fill="#ffffff" />
<rect x="1452.5" y="526.7" width="5.0" height="116.6" fill="#ffffff" />
<rect x="1457.5" y="575.8" width="49.2" height="3.4" fill="#ffffff" />
<rect x="1457.5" y="627.5" width="49.2" height="4.2" fill="#ffffff" />
<rect x="1453.2" y="537.5" width="3.4" height="26.7" fill="#9fb8c6" />
<rect x="1453.2" y="590.8" width="3.4" height="25.9" fill="#9fb8c6" />
<g fill="none" stroke="#7a463a" stroke-width="0.8"><rect x="1461.2" y="530.8" width="30.5" height="27.5"/><rect x="1471.3" y="543.7" width="31.2" height="27.1"/><rect x="1461.2" y="583.3" width="30.5" height="27.5"/><rect x="1471.3" y="596.3" width="31.2" height="27.4"/></g>
<rect x="1486.7" y="649.0" width="5.0" height="7.0" fill="#ffffff" />
<rect x="1538.7" y="392.5" width="6.0" height="36.5" fill="#a9a9ab" />
<rect x="1622.5" y="424.7" width="6.2" height="17.0" fill="#a9a9ab" />
<rect x="1622.5" y="483.3" width="20.8" height="6.7" fill="#a9a9ab" />
<rect x="1637.5" y="547.5" width="22.5" height="5.8" fill="#a9a9ab" />
<rect x="1637.5" y="616.7" width="22.5" height="5.8" fill="#a9a9ab" />
<rect x="1622.5" y="681.0" width="16.2" height="6.5" fill="#a9a9ab" />
<rect x="1645.8" y="553.3" width="5.0" height="63.4" fill="#ffffff" />
<rect x="1622.5" y="729.0" width="6.2" height="13.5" fill="#a9a9ab" />
<rect x="1538.7" y="742.5" width="6.3" height="34.5" fill="#a9a9ab" />
<rect x="1445.0" y="393.5" width="73.0" height="1.8" fill="#dcdcdc" />
<rect x="1567.5" y="681.3" width="55.0" height="4.2" fill="#ffffff" />
<rect x="1547.0" y="753.7" width="16.3" height="17.6" fill="#c9c9cb" />
<rect x="1563.7" y="755.0" width="58.3" height="17.0" fill="#1c1c1c" />
<rect x="1582.0" y="759.5" width="13.0" height="8.0" fill="#f0f0f0" />
<rect x="1305.0" y="649.0" width="71.7" height="123.5" fill="url(#wood)" />
<rect x="1376.7" y="649.0" width="8.3" height="37.0" fill="#2d2d2f" />
<rect x="1376.7" y="685.8" width="17.0" height="110.5" fill="#2d2d2f" />
<rect x="1385.0" y="641.7" width="5.8" height="43.3" fill="#ffffff" />
<rect x="1385.0" y="681.3" width="160.0" height="4.5" fill="#ffffff" />
<rect x="1360.0" y="641.7" width="30.8" height="5.0" fill="#ffffff" />
<polygon points="1393.7,685.8 1538.7,685.8 1538.7,773.7 1467.5,773.7 1467.5,796.3 1393.7,796.3" fill="#b05f69" />
<rect x="1323.3" y="644.0" width="39.2" height="5.0" fill="#a9a9ab" />
<rect x="1304.0" y="644.0" width="19.3" height="5.0" fill="#ffffff" />
<rect x="1362.5" y="644.0" width="27.5" height="5.0" fill="#ffffff" />
<rect x="1323.3" y="655.0" width="18.4" height="32.5" fill="#3a3a3c" />
<rect x="1347.5" y="655.0" width="18.3" height="32.5" fill="#3a3a3c" />
<circle cx="1320.0" cy="762.0" r="7.0" fill="#000" opacity="0.25" filter="url(#bl1)"/>
<circle cx="1319.0" cy="760.8" r="7.0" fill="#8b9197" />
<circle cx="1319.0" cy="760.8" r="5.8" fill="#a9b1b8" />
<rect x="1161.7" y="554.0" width="55.3" height="93.5" fill="url(#tile)" />
<rect x="1161.7" y="653.0" width="53.3" height="33.0" fill="url(#tile)" />
<rect x="1193.3" y="647.5" width="20.7" height="5.5" fill="url(#tile)" />
<rect x="1221.7" y="621.7" width="77.3" height="150.8" fill="url(#tile)" />
<rect x="1215.0" y="653.0" width="6.7" height="27.0" fill="url(#tile)" />
<rect x="1155.8" y="658.0" width="5.9" height="28.7" fill="#a9a9ab" />
<rect x="1161.3" y="555.0" width="36.2" height="17.5" fill="#1c1c1c" />
<rect x="1197.5" y="555.0" width="19.2" height="19.0" fill="#bdbdbf" />
<rect x="1166.0" y="561.0" width="12.0" height="7.5" fill="#f0f0f0" />
<rect x="1221.7" y="554.0" width="15.8" height="62.3" fill="#ececee" />
<path d="M1221.7,554L1237.5,616.3M1237.5,554L1221.7,616.3" stroke="#dcdcde" stroke-width="0.6"/>
<rect x="1242.5" y="554.0" width="126.2" height="62.3" fill="#dedee1" />
<rect x="1270.8" y="554.0" width="70.9" height="27.7" fill="#e6e6e8" />
<path d="M1270.8,554V581.7M1277.2,554V581.7M1283.7,554V581.7M1290.1,554V581.7M1296.6,554V581.7M1303.0,554V581.7M1309.5,554V581.7M1316.0,554V581.7M1322.4,554V581.7M1328.8,554V581.7M1335.3,554V581.7M1341.8,554V581.7" stroke="#f6f6f6" stroke-width="0.9"/>
<rect x="1270.8" y="588.7" width="43.4" height="27.6" fill="#c6c6c9" />
<path d="M1270.8,588.7V616.3M1277.0,588.7V616.3M1283.2,588.7V616.3M1289.4,588.7V616.3M1295.6,588.7V616.3M1301.8,588.7V616.3M1308.0,588.7V616.3M1314.2,588.7V616.3" stroke="#cfcfd1" stroke-width="0.9"/>
<rect x="1270.8" y="581.7" width="102.5" height="7.0" fill="#ffffff" />
<rect x="1237.5" y="554.0" width="5.0" height="62.3" fill="#ffffff" />
<rect x="1217.0" y="554.0" width="4.7" height="99.0" fill="#ffffff" />
<rect x="1216.7" y="616.3" width="111.6" height="5.4" fill="#ffffff" />
<rect x="1216.7" y="616.3" width="25.0" height="5.4" fill="#a9a9ab" />
<rect x="1161.7" y="647.5" width="31.6" height="5.5" fill="#ffffff" />
<rect x="1214.0" y="647.5" width="16.8" height="5.5" fill="#ffffff" />
<rect x="1249.0" y="621.7" width="6.0" height="32.3" fill="#ffffff" />
<rect x="1299.0" y="621.0" width="6.0" height="157.0" fill="#ffffff" />
<rect x="1299.0" y="742.5" width="6.0" height="35.5" fill="#a9a9ab" />
<rect x="1303.0" y="622.5" width="20.0" height="20.5" fill="#e6e6e8" />
<rect x="1323.0" y="616.7" width="5.3" height="27.3" fill="#ffffff" />
<rect x="1214.7" y="680.0" width="7.0" height="17.0" fill="#a9a9ab" />
<rect x="1214.7" y="729.0" width="7.0" height="16.0" fill="#a9a9ab" />
<rect x="1250.0" y="675.8" width="5.0" height="35.9" fill="#ffffff" />
<rect x="1244.0" y="711.7" width="56.0" height="5.0" fill="#ffffff" />
<rect x="1214.7" y="772.5" width="90.3" height="5.5" fill="#ffffff" />
<rect x="1284.0" y="622.5" width="14.0" height="27.5" fill="#c4b79e" />
<circle cx="1290.0" cy="635.0" r="3.5" fill="#e8e8e8" />
<rect x="1221.7" y="745.0" width="14.3" height="27.0" fill="#c4b79e" />
<circle cx="1229.0" cy="758.0" r="3.5" fill="#e8e8e8" />
<rect x="1260.5" y="690.0" width="11.5" height="21.0" fill="#c3c3c6" rx="2" filter="url(#texPave)"/>
<rect x="1277.0" y="724.0" width="21.0" height="12.0" fill="#c3c3c6" rx="3" filter="url(#texPave)"/>
<rect x="1310.0" y="469.0" width="13.0" height="23.0" fill="#c8c8cb" rx="3"/>
<rect x="1305.5" y="508.0" width="24.5" height="12.0" fill="#d5ccb8" />
<rect x="1371.7" y="795.0" width="8.3" height="14.0" fill="#a9a9ab" />
<rect x="1355.0" y="803.0" width="25.0" height="6.0" fill="#a9a9ab" />
<rect x="1465.0" y="795.0" width="6.0" height="14.0" fill="#a9a9ab" />
<rect x="1060.0" y="177.0" width="6.6" height="14.3" fill="#2a7fd4" />
<rect x="1066.6" y="177.0" width="6.6" height="14.3" fill="#f3b21f" />
<rect x="1073.2" y="177.0" width="6.6" height="14.3" fill="#2a7fd4" />
<rect x="1079.8" y="177.0" width="6.6" height="14.3" fill="#e8392f" />
<rect x="1086.5" y="177.0" width="6.6" height="14.3" fill="#2a7fd4" />
<rect x="1093.1" y="177.0" width="6.6" height="14.3" fill="#f3b21f" />
<rect x="1099.7" y="177.0" width="6.6" height="14.3" fill="#2a7fd4" />
<rect x="1090.0" y="181.3" width="16.3" height="8.1" fill="#f3b21f" />
<rect x="1090.0" y="189.4" width="16.3" height="8.1" fill="#2a7fd4" />
<rect x="1090.0" y="197.6" width="16.3" height="8.1" fill="#e8392f" />
<rect x="1090.0" y="205.7" width="16.3" height="8.1" fill="#2a7fd4" />
<rect x="1090.0" y="213.9" width="16.3" height="8.1" fill="#f3b21f" />
<circle cx="1047.5" cy="215.7" r="7.0" fill="#2b62c4" />
<circle cx="1050.5" cy="246.3" r="4.5" fill="#d9d9d9" />
<g transform="rotate(-11 1201.3 191.3)"><g opacity="0.3" filter="url(#bl1)" transform="translate(1.2,1.8)"><circle cx="1201.3" cy="191.3" r="12.3" fill="#000" /><rect x="1197.0" y="169.3" width="8.5" height="11.7" fill="#000" /><rect x="1211.6" y="187.1" width="11.7" height="8.5" fill="#000" /><rect x="1197.0" y="201.6" width="8.5" height="11.7" fill="#000" /><rect x="1179.3" y="187.1" width="11.7" height="8.5" fill="#000" /></g><rect x="1197.0" y="169.3" width="8.5" height="11.7" fill="#bf7a4c" /><rect x="1211.6" y="187.1" width="11.7" height="8.5" fill="#bf7a4c" /><rect x="1197.0" y="201.6" width="8.5" height="11.7" fill="#bf7a4c" /><rect x="1179.3" y="187.1" width="11.7" height="8.5" fill="#bf7a4c" /><circle cx="1201.3" cy="191.3" r="12.3" fill="#be8a62" /><path d="M1191.5,183.9V198.7M1194.1,181.3V201.3M1196.7,179.9V202.7M1199.3,179.2V203.4M1201.9,179.0V203.6M1204.5,179.4V203.2M1207.1,180.5V202.1M1209.7,182.3V200.3M1212.3,185.8V196.8" stroke="#000" stroke-opacity="0.10" stroke-width="0.6" fill="none"/></g>
<g transform="rotate(-11 1183.3 255.0)"><g opacity="0.3" filter="url(#bl1)" transform="translate(1.2,1.8)"><circle cx="1183.3" cy="255.0" r="12.3" fill="#000" /><rect x="1179.0" y="233.0" width="8.5" height="11.7" fill="#000" /><rect x="1193.6" y="250.8" width="11.7" height="8.5" fill="#000" /><rect x="1179.0" y="265.3" width="8.5" height="11.7" fill="#000" /><rect x="1161.3" y="250.8" width="11.7" height="8.5" fill="#000" /></g><rect x="1179.0" y="233.0" width="8.5" height="11.7" fill="#bf7a4c" /><rect x="1193.6" y="250.8" width="11.7" height="8.5" fill="#bf7a4c" /><rect x="1179.0" y="265.3" width="8.5" height="11.7" fill="#bf7a4c" /><rect x="1161.3" y="250.8" width="11.7" height="8.5" fill="#bf7a4c" /><circle cx="1183.3" cy="255.0" r="12.3" fill="#be8a62" /><path d="M1173.5,247.6V262.4M1176.1,245.0V265.0M1178.7,243.6V266.4M1181.3,242.9V267.1M1183.9,242.7V267.3M1186.5,243.1V266.9M1189.1,244.2V265.8M1191.7,246.0V264.0M1194.3,249.5V260.5" stroke="#000" stroke-opacity="0.10" stroke-width="0.6" fill="none"/></g>
<g transform="rotate(-11 1325.0 183.7)"><g opacity="0.3" filter="url(#bl1)" transform="translate(1.2,1.8)"><circle cx="1325.0" cy="183.7" r="12.3" fill="#000" /><rect x="1320.8" y="161.7" width="8.5" height="11.7" fill="#000" /><rect x="1335.3" y="179.4" width="11.7" height="8.5" fill="#000" /><rect x="1320.8" y="194.0" width="8.5" height="11.7" fill="#000" /><rect x="1303.0" y="179.4" width="11.7" height="8.5" fill="#000" /></g><rect x="1320.8" y="161.7" width="8.5" height="11.7" fill="#bf7a4c" /><rect x="1335.3" y="179.4" width="11.7" height="8.5" fill="#bf7a4c" /><rect x="1320.8" y="194.0" width="8.5" height="11.7" fill="#bf7a4c" /><rect x="1303.0" y="179.4" width="11.7" height="8.5" fill="#bf7a4c" /><circle cx="1325.0" cy="183.7" r="12.3" fill="#be8a62" /><path d="M1315.2,176.3V191.1M1317.8,173.7V193.7M1320.4,172.3V195.1M1323.0,171.6V195.8M1325.6,171.4V196.0M1328.2,171.8V195.6M1330.8,172.9V194.5M1333.4,174.7V192.7M1336.0,178.2V189.2" stroke="#000" stroke-opacity="0.10" stroke-width="0.6" fill="none"/></g>
<g transform="rotate(-11 1325.0 256.3)"><g opacity="0.3" filter="url(#bl1)" transform="translate(1.2,1.8)"><circle cx="1325.0" cy="256.3" r="12.3" fill="#000" /><rect x="1320.8" y="234.3" width="8.5" height="11.7" fill="#000" /><rect x="1335.3" y="252.1" width="11.7" height="8.5" fill="#000" /><rect x="1320.8" y="266.6" width="8.5" height="11.7" fill="#000" /><rect x="1303.0" y="252.1" width="11.7" height="8.5" fill="#000" /></g><rect x="1320.8" y="234.3" width="8.5" height="11.7" fill="#bf7a4c" /><rect x="1335.3" y="252.1" width="11.7" height="8.5" fill="#bf7a4c" /><rect x="1320.8" y="266.6" width="8.5" height="11.7" fill="#bf7a4c" /><rect x="1303.0" y="252.1" width="11.7" height="8.5" fill="#bf7a4c" /><circle cx="1325.0" cy="256.3" r="12.3" fill="#be8a62" /><path d="M1315.2,248.9V263.7M1317.8,246.3V266.3M1320.4,244.9V267.7M1323.0,244.2V268.4M1325.6,244.0V268.6M1328.2,244.4V268.2M1330.8,245.5V267.1M1333.4,247.3V265.3M1336.0,250.8V261.8" stroke="#000" stroke-opacity="0.10" stroke-width="0.6" fill="none"/></g>
<g transform="rotate(-11 1520.0 262.5)"><g opacity="0.3" filter="url(#bl1)" transform="translate(1.2,1.8)"><circle cx="1520.0" cy="262.5" r="12.3" fill="#000" /><rect x="1515.8" y="240.5" width="8.5" height="11.7" fill="#000" /><rect x="1530.3" y="258.2" width="11.7" height="8.5" fill="#000" /><rect x="1515.8" y="272.8" width="8.5" height="11.7" fill="#000" /><rect x="1498.0" y="258.2" width="11.7" height="8.5" fill="#000" /></g><rect x="1515.8" y="240.5" width="8.5" height="11.7" fill="#bf7a4c" /><rect x="1530.3" y="258.2" width="11.7" height="8.5" fill="#bf7a4c" /><rect x="1515.8" y="272.8" width="8.5" height="11.7" fill="#bf7a4c" /><rect x="1498.0" y="258.2" width="11.7" height="8.5" fill="#bf7a4c" /><circle cx="1520.0" cy="262.5" r="12.3" fill="#be8a62" /><path d="M1510.2,255.1V269.9M1512.8,252.5V272.5M1515.4,251.1V273.9M1518.0,250.4V274.6M1520.6,250.2V274.8M1523.2,250.6V274.4M1525.8,251.7V273.3M1528.4,253.5V271.5M1531.0,257.0V268.0" stroke="#000" stroke-opacity="0.10" stroke-width="0.6" fill="none"/></g>
<rect x="1233.7" y="232.0" width="18.0" height="49.0" fill="#000" opacity="0.25" filter="url(#bl1)"/>
<rect x="1226.2" y="255.0" width="29.5" height="5.5" fill="#dd8436" />
<rect x="1232.2" y="230.4" width="17.5" height="48.7" fill="#e48d3e" />
<path d="M1232.2,232.5h17.5M1232.2,235.1h17.5M1232.2,237.7h17.5M1232.2,240.3h17.5M1232.2,242.9h17.5M1232.2,245.5h17.5M1232.2,248.1h17.5M1232.2,250.7h17.5M1232.2,253.3h17.5M1232.2,255.9h17.5M1232.2,258.5h17.5M1232.2,261.1h17.5M1232.2,263.7h17.5M1232.2,266.3h17.5M1232.2,268.9h17.5M1232.2,271.5h17.5M1232.2,274.1h17.5M1232.2,276.7h17.5" stroke="#c9742c" stroke-width="0.5" stroke-opacity="0.7" fill="none"/>
<rect x="1269.2" y="232.0" width="18.0" height="49.0" fill="#000" opacity="0.25" filter="url(#bl1)"/>
<rect x="1261.7" y="255.0" width="29.5" height="5.5" fill="#dd8436" />
<rect x="1267.7" y="230.4" width="17.5" height="48.7" fill="#e48d3e" />
<path d="M1267.7,232.5h17.5M1267.7,235.1h17.5M1267.7,237.7h17.5M1267.7,240.3h17.5M1267.7,242.9h17.5M1267.7,245.5h17.5M1267.7,248.1h17.5M1267.7,250.7h17.5M1267.7,253.3h17.5M1267.7,255.9h17.5M1267.7,258.5h17.5M1267.7,261.1h17.5M1267.7,263.7h17.5M1267.7,266.3h17.5M1267.7,268.9h17.5M1267.7,271.5h17.5M1267.7,274.1h17.5M1267.7,276.7h17.5" stroke="#c9742c" stroke-width="0.5" stroke-opacity="0.7" fill="none"/>
<rect x="1662.0" y="159.7" width="8.0" height="26.0" fill="#dd8436" />
<rect x="1638.7" y="163.7" width="48.8" height="18.0" fill="#e48d3e" />
<path d="M1641.0,163.7v18M1643.7,163.7v18M1646.4,163.7v18M1649.1,163.7v18M1651.8,163.7v18M1654.5,163.7v18M1657.2,163.7v18M1659.9,163.7v18M1662.6,163.7v18M1665.3,163.7v18M1668.0,163.7v18M1670.7,163.7v18M1673.4,163.7v18M1676.1,163.7v18M1678.8,163.7v18M1681.5,163.7v18M1684.2,163.7v18M1686.9,163.7v18" stroke="#c9742c" stroke-width="0.5" stroke-opacity="0.7" fill="none"/>
<rect x="1662.0" y="196.0" width="8.0" height="26.0" fill="#dd8436" />
<rect x="1638.7" y="200.0" width="48.8" height="18.0" fill="#e48d3e" />
<path d="M1641.0,200.0v18M1643.7,200.0v18M1646.4,200.0v18M1649.1,200.0v18M1651.8,200.0v18M1654.5,200.0v18M1657.2,200.0v18M1659.9,200.0v18M1662.6,200.0v18M1665.3,200.0v18M1668.0,200.0v18M1670.7,200.0v18M1673.4,200.0v18M1676.1,200.0v18M1678.8,200.0v18M1681.5,200.0v18M1684.2,200.0v18M1686.9,200.0v18" stroke="#c9742c" stroke-width="0.5" stroke-opacity="0.7" fill="none"/>
<rect x="1662.0" y="228.5" width="8.0" height="26.0" fill="#dd8436" />
<rect x="1638.7" y="232.5" width="48.8" height="18.0" fill="#e48d3e" />
<path d="M1641.0,232.5v18M1643.7,232.5v18M1646.4,232.5v18M1649.1,232.5v18M1651.8,232.5v18M1654.5,232.5v18M1657.2,232.5v18M1659.9,232.5v18M1662.6,232.5v18M1665.3,232.5v18M1668.0,232.5v18M1670.7,232.5v18M1673.4,232.5v18M1676.1,232.5v18M1678.8,232.5v18M1681.5,232.5v18M1684.2,232.5v18M1686.9,232.5v18" stroke="#c9742c" stroke-width="0.5" stroke-opacity="0.7" fill="none"/>
<rect x="1612.5" y="320.0" width="58.8" height="16.3" fill="#222" />
<rect x="1616.0" y="323.0" width="16.0" height="11.0" fill="#888" />
<rect x="1619.0" y="325.5" width="10.0" height="6.5" fill="#555" />
<rect x="1646.0" y="324.5" width="13.0" height="8.0" fill="#f0f0f0" />
<rect x="1708.0" y="320.8" width="18.7" height="19.5" fill="#b9b9bb" />
<rect x="1711.0" y="320.8" width="11.0" height="19.5" fill="#d6d6d8" />
<g transform="rotate(-15 1642.0 363.3)"><g opacity="0.3" filter="url(#bl1)" transform="translate(1.2,1.8)"><circle cx="1642.0" cy="363.3" r="8.5" fill="#000" /><rect x="1648.5" y="359.3" width="6.0" height="8.0" fill="#000" /><rect x="1629.5" y="359.3" width="6.0" height="8.0" fill="#000" /></g><rect x="1648.5" y="359.3" width="6.0" height="8.0" fill="#c8732f" /><rect x="1629.5" y="359.3" width="6.0" height="8.0" fill="#c8732f" /><circle cx="1642.0" cy="363.3" r="8.5" fill="#c49a7c" /><path d="M1636.0,357.3V369.3M1638.6,355.5V371.1M1641.2,354.8V371.8M1643.8,355.0V371.6M1646.4,356.0V370.6M1649.0,358.5V368.1" stroke="#000" stroke-opacity="0.10" stroke-width="0.6" fill="none"/></g>
<circle cx="1642.0" cy="363.3" r="0.8" fill="#111" />
<g transform="rotate(0 1693.0 366.0)"><g opacity="0.3" filter="url(#bl1)" transform="translate(1.2,1.8)"><circle cx="1693.0" cy="366.0" r="11.5" fill="#000" /><rect x="1688.8" y="344.5" width="8.5" height="12.0" fill="#000" /><rect x="1702.5" y="361.8" width="12.0" height="8.5" fill="#000" /><rect x="1688.8" y="375.5" width="8.5" height="12.0" fill="#000" /><rect x="1671.5" y="361.8" width="12.0" height="8.5" fill="#000" /></g><rect x="1688.8" y="344.5" width="8.5" height="12.0" fill="#cf7c48" /><rect x="1702.5" y="361.8" width="12.0" height="8.5" fill="#cf7c48" /><rect x="1688.8" y="375.5" width="8.5" height="12.0" fill="#cf7c48" /><rect x="1671.5" y="361.8" width="12.0" height="8.5" fill="#cf7c48" /><circle cx="1693.0" cy="366.0" r="11.5" fill="#d78a5c" /><path d="M1684.0,358.8V373.2M1686.6,356.4V375.6M1689.2,355.1V376.9M1691.8,354.6V377.4M1694.4,354.6V377.4M1697.0,355.2V376.8M1699.6,356.6V375.4M1702.2,359.1V372.9" stroke="#000" stroke-opacity="0.10" stroke-width="0.6" fill="none"/></g>
<g transform="rotate(0 1707.0 411.7)"><g opacity="0.3" filter="url(#bl1)" transform="translate(1.2,1.8)"><circle cx="1707.0" cy="411.7" r="8.5" fill="#000" /><rect x="1713.5" y="407.7" width="6.0" height="8.0" fill="#000" /><rect x="1694.5" y="407.7" width="6.0" height="8.0" fill="#000" /></g><rect x="1713.5" y="407.7" width="6.0" height="8.0" fill="#c8732f" /><rect x="1694.5" y="407.7" width="6.0" height="8.0" fill="#c8732f" /><circle cx="1707.0" cy="411.7" r="8.5" fill="#c49a7c" /><path d="M1701.0,405.7V417.7M1703.6,403.9V419.5M1706.2,403.2V420.2M1708.8,403.4V420.0M1711.4,404.4V419.0M1714.0,406.9V416.5" stroke="#000" stroke-opacity="0.10" stroke-width="0.6" fill="none"/></g>
<circle cx="1707.0" cy="411.7" r="0.8" fill="#111" />
<g transform="rotate(100 1641.7 452.5)"><g opacity="0.3" filter="url(#bl1)" transform="translate(1.2,1.8)"><circle cx="1641.7" cy="452.5" r="9.0" fill="#000" /><rect x="1648.7" y="448.5" width="6.0" height="8.0" fill="#000" /><rect x="1628.7" y="448.5" width="6.0" height="8.0" fill="#000" /></g><rect x="1648.7" y="448.5" width="6.0" height="8.0" fill="#c8732f" /><rect x="1628.7" y="448.5" width="6.0" height="8.0" fill="#c8732f" /><circle cx="1641.7" cy="452.5" r="9.0" fill="#c49a7c" /><path d="M1635.2,446.3V458.7M1637.8,444.4V460.6M1640.4,443.6V461.4M1643.0,443.6V461.4M1645.6,444.4V460.6M1648.2,446.3V458.7" stroke="#000" stroke-opacity="0.10" stroke-width="0.6" fill="none"/></g>
<circle cx="1641.7" cy="452.5" r="0.8" fill="#111" />
<g transform="rotate(0 1679.2 505.8)"><g opacity="0.3" filter="url(#bl1)" transform="translate(1.2,1.8)"><circle cx="1679.2" cy="505.8" r="11.5" fill="#000" /><rect x="1675.0" y="483.8" width="8.4" height="12.5" fill="#000" /><rect x="1688.7" y="501.6" width="12.5" height="8.4" fill="#000" /><rect x="1675.0" y="515.3" width="8.4" height="12.5" fill="#000" /><rect x="1657.2" y="501.6" width="12.5" height="8.4" fill="#000" /></g><rect x="1675.0" y="483.8" width="8.4" height="12.5" fill="#d4ab66" /><rect x="1688.7" y="501.6" width="12.5" height="8.4" fill="#d4ab66" /><rect x="1675.0" y="515.3" width="8.4" height="12.5" fill="#d4ab66" /><rect x="1657.2" y="501.6" width="12.5" height="8.4" fill="#d4ab66" /><circle cx="1679.2" cy="505.8" r="11.5" fill="#d1a863" /><path d="M1670.2,498.6V513.0M1672.8,496.2V515.4M1675.4,494.9V516.7M1678.0,494.4V517.2M1680.6,494.4V517.2M1683.2,495.0V516.6M1685.8,496.4V515.2M1688.4,498.9V512.7" stroke="#000" stroke-opacity="0.10" stroke-width="0.6" fill="none"/></g>
<g transform="rotate(0 1671.3 675.0)"><g opacity="0.3" filter="url(#bl1)" transform="translate(1.2,1.8)"><circle cx="1671.3" cy="675.0" r="11.5" fill="#000" /><rect x="1667.1" y="653.0" width="8.4" height="12.5" fill="#000" /><rect x="1680.8" y="670.8" width="12.5" height="8.4" fill="#000" /><rect x="1667.1" y="684.5" width="8.4" height="12.5" fill="#000" /><rect x="1649.3" y="670.8" width="12.5" height="8.4" fill="#000" /></g><rect x="1667.1" y="653.0" width="8.4" height="12.5" fill="#d4ab66" /><rect x="1680.8" y="670.8" width="12.5" height="8.4" fill="#d4ab66" /><rect x="1667.1" y="684.5" width="8.4" height="12.5" fill="#d4ab66" /><rect x="1649.3" y="670.8" width="12.5" height="8.4" fill="#d4ab66" /><circle cx="1671.3" cy="675.0" r="11.5" fill="#d1a863" /><path d="M1662.3,667.8V682.2M1664.9,665.4V684.6M1667.5,664.1V685.9M1670.1,663.6V686.4M1672.7,663.6V686.4M1675.3,664.2V685.8M1677.9,665.6V684.4M1680.5,668.1V681.9" stroke="#000" stroke-opacity="0.10" stroke-width="0.6" fill="none"/></g>
<g transform="rotate(20 1558.3 409.2)"><rect x="1550.3" y="402.2" width="18.5" height="18.0" fill="#000" opacity="0.35" filter="url(#bl1)"/><rect x="1549.3" y="400.2" width="18.0" height="18.0" fill="#4b4342" rx="1.5"/><rect x="1550.5" y="401.7" width="15.6" height="16.0" fill="#c9cdd2" rx="1"/><rect x="1553.3" y="402.2" width="10.0" height="9.5" fill="#8c9496" rx="1"/></g>
<g transform="rotate(-20 1602.5 408.3)"><rect x="1594.5" y="401.3" width="18.5" height="18.0" fill="#000" opacity="0.35" filter="url(#bl1)"/><rect x="1593.5" y="399.3" width="18.0" height="18.0" fill="#4b4342" rx="1.5"/><rect x="1594.7" y="400.8" width="15.6" height="16.0" fill="#c9cdd2" rx="1"/><rect x="1597.5" y="401.3" width="10.0" height="9.5" fill="#8c9496" rx="1"/></g>
<g transform="rotate(-38 1156 801)"><rect x="1148.0" y="794.0" width="18.5" height="18.0" fill="#000" opacity="0.35" filter="url(#bl1)"/><rect x="1147.0" y="792.0" width="18.0" height="18.0" fill="#4b4342" rx="1.5"/><rect x="1148.2" y="793.5" width="15.6" height="16.0" fill="#c9cdd2" rx="1"/><rect x="1151.0" y="794.0" width="10.0" height="9.5" fill="#8c9496" rx="1"/></g>
<g transform="rotate(-8 1203 826)"><rect x="1195.0" y="819.0" width="18.5" height="18.0" fill="#000" opacity="0.35" filter="url(#bl1)"/><rect x="1194.0" y="817.0" width="18.0" height="18.0" fill="#4b4342" rx="1.5"/><rect x="1195.2" y="818.5" width="15.6" height="16.0" fill="#c9cdd2" rx="1"/><rect x="1198.0" y="819.0" width="10.0" height="9.5" fill="#8c9496" rx="1"/></g>
<circle cx="1581.3" cy="406.3" r="7.5" fill="#000" opacity="0.25" filter="url(#bl1)"/>
<circle cx="1580.3" cy="404.7" r="7.5" fill="#c49a7c" />
<circle cx="1580.3" cy="404.7" r="0.8" fill="#111" />
<rect x="1703.5" y="535.0" width="8.5" height="35.0" fill="#a8592a" />
<rect x="1703.7" y="600.0" width="8.8" height="17.5" fill="#a8592a" />
<rect x="1561.5" y="432.0" width="59.5" height="17.5" fill="#000" opacity="0.2" filter="url(#bl1)"/>
<rect x="1560.5" y="430.8" width="59.5" height="17.5" fill="#d3bea6" rx="1.5"/>
<rect x="1600.5" y="448.0" width="18.5" height="15.5" fill="#d6c2ab" rx="1.5"/>
<rect x="1563.0" y="435.5" width="54.0" height="11.5" fill="#deccb8" />
<rect x="1602.5" y="447.0" width="14.5" height="14.5" fill="#deccb8" />
<path d="M1581.5,431.5V436M1600,431.5V436M1563,435.5H1617" stroke="#bfa990" stroke-width="0.7" fill="none"/>
<rect x="1447.5" y="469.0" width="62.5" height="17.7" fill="#c3a57e" />
<circle cx="1456.0" cy="479.0" r="3.0" fill="#6a5a80" />
<circle cx="1478.0" cy="478.0" r="4.5" fill="#e8ead2" />
<circle cx="1497.0" cy="478.0" r="3.5" fill="#4e6a4a" />
<rect x="1562.9" y="492.7" width="12.6" height="9" rx="2" fill="#43523a" transform="rotate(0 1569.2 497.2)"/>
<rect x="1581.4" y="506.2" width="12.6" height="9" rx="2" fill="#43523a" transform="rotate(72 1587.7 510.7)"/>
<rect x="1574.4" y="528.0" width="12.6" height="9" rx="2" fill="#43523a" transform="rotate(144 1580.7 532.5)"/>
<rect x="1551.4" y="528.0" width="12.6" height="9" rx="2" fill="#43523a" transform="rotate(216 1557.7 532.5)"/>
<rect x="1544.4" y="506.2" width="12.6" height="9" rx="2" fill="#43523a" transform="rotate(288 1550.7 510.7)"/>
<circle cx="1570.2" cy="518.2" r="15.0" fill="#000" opacity="0.2" filter="url(#bl1)"/>
<circle cx="1569.2" cy="516.7" r="14.5" fill="#e9e7de" />
<circle cx="1569.2" cy="516.7" r="3.8" fill="#3f7a3a" />
<circle cx="1568.2" cy="517.7" r="2.0" fill="#2f6a30" />
<rect x="1560.0" y="602.5" width="6.5" height="13.7" fill="#6d8c72" />
<rect x="1593.5" y="602.5" width="8.5" height="13.7" fill="#6d8c72" />
<rect x="1560.0" y="618.7" width="6.5" height="13.7" fill="#6d8c72" />
<rect x="1593.5" y="618.7" width="8.5" height="13.7" fill="#6d8c72" />
<rect x="1560.0" y="635.0" width="6.5" height="13.7" fill="#6d8c72" />
<rect x="1593.5" y="635.0" width="8.5" height="13.7" fill="#6d8c72" />
<rect x="1567.0" y="597.0" width="28.0" height="59.5" fill="#000" opacity="0.2" filter="url(#bl1)"/>
<rect x="1566.0" y="596.0" width="27.7" height="59.5" fill="#c9a680" />
<circle cx="1580.0" cy="625.0" r="3.0" fill="#7a6a4a" />
<rect x="1633.7" y="728.7" width="53.8" height="17.6" fill="#9a5a32" />
<rect x="1636.0" y="731.0" width="49.0" height="13.0" fill="#d9cdbd" />
<rect x="1638.0" y="734.0" width="8.0" height="7.0" fill="#2a86d8" />
<rect x="1651.0" y="738.0" width="9.0" height="4.0" fill="#2a86d8" />
<rect x="1664.0" y="738.0" width="9.0" height="4.0" fill="#f08a1c" />
<rect x="1676.0" y="734.0" width="8.0" height="7.0" fill="#2a86d8" />
<rect x="1690.0" y="704.0" width="18.0" height="18.0" fill="#8a8e92" />
<rect x="1692.0" y="708.0" width="12.0" height="12.0" fill="#c9ccd0" />
<circle cx="1142.1" cy="346.4" r="5.0" fill="#000" opacity="0.25" filter="url(#bl05)"/>
<circle cx="1141.5" cy="345.5" r="5.0" fill="#f3c62e" />
<circle cx="1160.1" cy="347.9" r="6.5" fill="#000" opacity="0.25" filter="url(#bl05)"/>
<circle cx="1159.5" cy="347.0" r="6.5" fill="#2a63c2" />
<circle cx="1142.6" cy="359.4" r="6.0" fill="#000" opacity="0.25" filter="url(#bl05)"/>
<circle cx="1142.0" cy="358.5" r="6.0" fill="#e8392f" />
<circle cx="1159.3" cy="363.9" r="4.5" fill="#000" opacity="0.25" filter="url(#bl05)"/>
<circle cx="1158.7" cy="363.0" r="4.5" fill="#5cc48a" />
<circle cx="1174.1" cy="359.4" r="4.5" fill="#000" opacity="0.25" filter="url(#bl05)"/>
<circle cx="1173.5" cy="358.5" r="4.5" fill="#f5b8c8" />
<circle cx="1155.1" cy="378.4" r="4.5" fill="#000" opacity="0.25" filter="url(#bl05)"/>
<circle cx="1154.5" cy="377.5" r="4.5" fill="#d9d9d9" />
<polygon points="1136.7,387.5 1145.0,390.8 1133.3,425.0 1125.0,422.5" fill="#5878d0" />
<polygon points="1138.5,390.0 1142.5,391.5 1132.0,422.5 1128.0,421.0" fill="#7b94de" />
<polygon points="1120.0,424.0 1133.0,428.0 1129.0,440.0 1116.0,436.0" fill="#ef4a23" />
<polygon points="1086.0,426.0 1131.0,440.0 1117.0,473.0 1072.0,457.0" fill="#fbb03b" />
<polygon points="1086.0,426.0 1108.0,433.0 1094.0,466.0 1072.0,457.0" fill="#fdc758" />
<polygon points="1076.0,456.0 1119.0,472.0 1116.0,480.0 1085.0,469.0 1083.0,475.0 1071.0,470.0" fill="#8dc63f" />
<polygon points="1249.0,396.0 1266.0,376.0 1279.0,397.0 1262.0,408.0" fill="#000" opacity="0.25" filter="url(#bl1)" transform="translate(1,1.5)"/>
<polygon points="1250.0,393.5 1267.0,375.5 1279.5,396.0 1259.0,408.5" fill="#1f7fd6" />
<polygon points="1235.5,394.0 1250.0,390.0 1254.5,405.0 1246.0,412.5" fill="#6f7a2a" />
<rect x="1222.5" y="475.8" width="17.5" height="17.5" fill="#c48a4a" />
<rect x="1225.8" y="467.5" width="10.9" height="6.5" fill="#ecebe6" />
<rect x="1227.0" y="477.0" width="8.0" height="5.0" fill="#ecebe6" />
<rect x="1225.8" y="495.0" width="10.9" height="7.5" fill="#ecebe6" />
<g transform="rotate(38 1278.3 487.5)"><rect x="1263.0" y="480.5" width="31.0" height="14.0" fill="#1d3568" rx="5"/><circle cx="1271.0" cy="487.5" r="4.0" fill="#c0392b" /><rect x="1280.0" y="483.5" width="10.0" height="8.0" fill="#3a5a9a" rx="2"/></g>
<path d="M1258,531l6,-3l3,4l6,-3l1,4l-5,3l2,5l-4,1l-2,-5l-6,1z" fill="#5f9a7c" />
<path d="M1383.3,699.4L1415.6,716.1" stroke="#f0e8e8" stroke-width="0.9" fill="none"/><path d="M1385,697.5l2,4.5M1411.5,711.5l2,4.5" stroke="#333" stroke-width="1" fill="none"/>
<rect x="1418.9" y="711.1" width="5.5" height="21.7" fill="#a5a8a8" />
<rect x="1456.1" y="695.0" width="1.7" height="37.2" fill="#f3e6e6" />
<rect x="1454.0" y="699.3" width="6.0" height="1.5" fill="#2a2a2a" />
<rect x="1454.0" y="726.0" width="6.0" height="1.5" fill="#2a2a2a" />
<polygon points="1498.3,700.5 1515.6,700.5 1512.0,708.3 1510.5,715.0 1503.5,715.0 1502.0,708.3" fill="#de2b1f" />
<path d="M1484.4,715.3H1529.4" stroke="#1a1a1a" stroke-width="0.9"/><path d="M1484.4,715.3h6M1523.4,715.3h6" stroke="#d8261c" stroke-width="0.9"/>
<rect x="1506.1" y="715.6" width="2.2" height="22.9" fill="#1c1c1c" />
<rect x="1505.0" y="719.0" width="4.5" height="5.0" fill="#c4241b" />
<path d="M1508.3,733.9H1518" stroke="#f0dede" stroke-width="0.8"/>
<circle cx="1520.0" cy="733.9" r="2.6" fill="#e0382c" />
<rect x="1450.6" y="746.7" width="29.4" height="6.6" fill="#d92a1f" />
<rect x="1449.4" y="745.0" width="1.6" height="11.0" fill="#2a1a1a" />
<rect x="1509.4" y="747.8" width="20.0" height="4.4" fill="#151515" />
<rect x="1509.4" y="746.5" width="4.6" height="7.0" fill="#151515" />
<circle cx="1035.5" cy="112.2" r="13.3" fill="#000" opacity="0.3" filter="url(#bl1)"/><g filter="url(#texLeaf)"><path d="M1022.7,118.5 1022.8,114.0 1020.2,110.5 1022.7,106.8 1022.2,102.2 1026.6,100.8 1029.1,97.3 1033.3,98.3 1037.3,97.4 1040.2,100.4 1044.5,101.6 1044.2,106.2 1047.1,109.6 1045.1,113.3 1045.1,117.7 1040.5,118.8 1038.6,123.4 1034.1,122.2 1030.1,122.6 1027.0,119.9Z" fill="#235229" stroke="#235229" stroke-width="2.2" stroke-linejoin="round"/><circle cx="1042.4" cy="108.2" r="2.7" fill="#2d6233" opacity="0.7"/><circle cx="1042.2" cy="107.4" r="2.7" fill="#1b4423" opacity="0.7"/><circle cx="1030.2" cy="104.0" r="3.5" fill="#356b38" opacity="0.7"/><circle cx="1042.0" cy="112.9" r="2.1" fill="#2d6233" opacity="0.7"/><circle cx="1026.2" cy="108.9" r="2.7" fill="#1b4423" opacity="0.7"/><circle cx="1032.2" cy="119.3" r="3.2" fill="#356b38" opacity="0.7"/><circle cx="1036.0" cy="112.3" r="3.2" fill="#2d6233" opacity="0.7"/><circle cx="1029.3" cy="114.9" r="3.4" fill="#1b4423" opacity="0.7"/><circle cx="1038.7" cy="117.6" r="2.9" fill="#356b38" opacity="0.7"/><circle cx="1029.5" cy="111.1" r="2.9" fill="#2d6233" opacity="0.7"/></g>
<circle cx="1079.3" cy="112.9" r="13.3" fill="#000" opacity="0.3" filter="url(#bl1)"/><g filter="url(#texLeaf)"><path d="M1084.4,121.6 1081.6,122.9 1078.5,123.3 1075.5,123.3 1072.6,122.3 1070.3,120.3 1067.5,118.9 1065.8,116.3 1065.0,113.3 1064.9,110.2 1064.3,106.9 1066.5,104.4 1067.7,101.3 1071.1,100.6 1073.0,97.4 1076.5,99.1 1079.6,97.5 1082.5,98.9 1085.2,100.5 1087.2,102.8 1089.6,104.9 1088.9,108.4 1090.6,111.2 1088.9,114.0 1089.4,117.5 1085.8,118.7Z" fill="#93b32c" stroke="#93b32c" stroke-width="2.2" stroke-linejoin="round"/><circle cx="1071.7" cy="111.1" r="3.3" fill="#a3bf35" opacity="0.7"/><circle cx="1079.4" cy="109.5" r="2.7" fill="#86a724" opacity="0.7"/><circle cx="1078.0" cy="120.1" r="3.3" fill="#adc640" opacity="0.7"/><circle cx="1078.8" cy="116.6" r="3.5" fill="#a3bf35" opacity="0.7"/><circle cx="1073.2" cy="106.2" r="2.2" fill="#86a724" opacity="0.7"/><circle cx="1070.3" cy="116.4" r="3.0" fill="#adc640" opacity="0.7"/><circle cx="1070.9" cy="106.9" r="3.6" fill="#a3bf35" opacity="0.7"/><circle cx="1076.7" cy="110.4" r="3.5" fill="#86a724" opacity="0.7"/><circle cx="1069.7" cy="108.7" r="3.4" fill="#adc640" opacity="0.7"/><circle cx="1073.7" cy="108.8" r="2.6" fill="#a3bf35" opacity="0.7"/></g>
<circle cx="1125.5" cy="110.9" r="15.7" fill="#000" opacity="0.3" filter="url(#bl1)"/><g filter="url(#texLeaf)"><path d="M1123.9,125.3 1119.8,121.4 1114.6,121.6 1112.7,116.9 1109.5,113.5 1110.9,108.9 1108.5,104.0 1112.6,100.9 1114.3,96.2 1119.6,96.7 1123.5,92.0 1127.9,95.1 1133.0,95.5 1133.9,101.1 1138.0,103.8 1136.3,108.5 1138.3,113.2 1134.4,116.3 1132.8,120.9 1128.0,121.5Z" fill="#235229" stroke="#235229" stroke-width="2.6" stroke-linejoin="round"/><circle cx="1131.0" cy="103.5" r="2.7" fill="#2d6233" opacity="0.7"/><circle cx="1121.7" cy="101.6" r="2.7" fill="#1b4423" opacity="0.7"/><circle cx="1127.3" cy="100.3" r="2.8" fill="#356b38" opacity="0.7"/><circle cx="1129.0" cy="114.2" r="3.9" fill="#2d6233" opacity="0.7"/><circle cx="1117.2" cy="115.7" r="3.6" fill="#1b4423" opacity="0.7"/><circle cx="1123.2" cy="109.4" r="4.0" fill="#356b38" opacity="0.7"/><circle cx="1129.8" cy="103.0" r="2.5" fill="#2d6233" opacity="0.7"/><circle cx="1127.8" cy="103.0" r="3.4" fill="#1b4423" opacity="0.7"/><circle cx="1124.7" cy="104.0" r="2.9" fill="#356b38" opacity="0.7"/><circle cx="1124.8" cy="108.8" r="2.5" fill="#2d6233" opacity="0.7"/></g>
<circle cx="1179.3" cy="112.9" r="14.2" fill="#000" opacity="0.3" filter="url(#bl1)"/><g filter="url(#texLeaf)"><path d="M1166.9,101.3 1170.2,100.1 1172.6,97.8 1176.0,98.2 1179.2,96.7 1181.9,99.0 1185.1,99.6 1187.9,101.5 1190.0,104.1 1190.0,107.6 1191.8,110.7 1190.6,113.9 1191.0,117.7 1187.7,119.7 1186.1,123.1 1182.2,123.0 1179.3,124.9 1175.9,123.7 1172.3,124.5 1169.9,121.7 1166.7,120.3 1166.1,116.7 1164.0,114.1 1164.9,110.7 1164.2,107.5 1166.3,104.8Z" fill="#93b32c" stroke="#93b32c" stroke-width="2.4" stroke-linejoin="round"/><circle cx="1173.0" cy="107.8" r="3.3" fill="#a3bf35" opacity="0.7"/><circle cx="1176.5" cy="112.8" r="3.1" fill="#86a724" opacity="0.7"/><circle cx="1168.5" cy="111.4" r="3.7" fill="#adc640" opacity="0.7"/><circle cx="1171.7" cy="104.2" r="2.1" fill="#a3bf35" opacity="0.7"/><circle cx="1179.1" cy="117.1" r="3.0" fill="#86a724" opacity="0.7"/><circle cx="1171.1" cy="107.9" r="2.5" fill="#adc640" opacity="0.7"/><circle cx="1181.8" cy="114.5" r="2.2" fill="#a3bf35" opacity="0.7"/><circle cx="1173.9" cy="110.7" r="2.5" fill="#86a724" opacity="0.7"/><circle cx="1177.7" cy="112.1" r="2.4" fill="#adc640" opacity="0.7"/><circle cx="1182.9" cy="102.0" r="2.5" fill="#a3bf35" opacity="0.7"/></g>
<circle cx="1230.5" cy="112.9" r="15.7" fill="#000" opacity="0.3" filter="url(#bl1)"/><g filter="url(#texLeaf)"><path d="M1225.2,95.7 1229.8,97.4 1234.9,96.0 1237.5,100.5 1242.1,102.6 1241.6,107.7 1245.4,112.1 1241.9,116.3 1240.0,120.4 1235.4,121.9 1232.2,125.5 1227.5,124.9 1222.4,125.6 1219.5,121.4 1215.4,118.8 1214.8,113.9 1212.3,109.3 1215.6,105.2 1216.7,100.3 1221.7,99.2Z" fill="#235229" stroke="#235229" stroke-width="2.6" stroke-linejoin="round"/><circle cx="1227.4" cy="107.8" r="3.0" fill="#2d6233" opacity="0.7"/><circle cx="1232.7" cy="114.0" r="3.2" fill="#1b4423" opacity="0.7"/><circle cx="1238.3" cy="112.4" r="3.0" fill="#356b38" opacity="0.7"/><circle cx="1233.1" cy="108.5" r="3.0" fill="#2d6233" opacity="0.7"/><circle cx="1227.1" cy="103.7" r="3.1" fill="#1b4423" opacity="0.7"/><circle cx="1224.8" cy="103.3" r="2.4" fill="#356b38" opacity="0.7"/><circle cx="1232.0" cy="108.3" r="2.6" fill="#2d6233" opacity="0.7"/><circle cx="1230.1" cy="103.0" r="3.9" fill="#1b4423" opacity="0.7"/><circle cx="1226.5" cy="121.2" r="3.7" fill="#356b38" opacity="0.7"/><circle cx="1229.0" cy="117.5" r="3.8" fill="#2d6233" opacity="0.7"/></g>
<circle cx="1281.8" cy="111.7" r="15.2" fill="#000" opacity="0.3" filter="url(#bl1)"/><g filter="url(#texLeaf)"><path d="M1274.8,122.8 1272.5,120.2 1268.6,119.4 1268.0,115.7 1265.5,112.9 1266.2,109.4 1265.6,105.8 1267.0,102.5 1269.1,99.6 1272.0,97.7 1274.8,95.5 1278.4,95.0 1282.1,93.7 1284.8,97.2 1288.3,97.7 1290.7,100.2 1294.4,102.1 1293.5,106.3 1295.4,109.6 1292.9,112.8 1294.1,117.0 1291.0,119.4 1288.4,121.8 1284.8,122.5 1281.7,124.5 1278.2,123.7Z" fill="#93b32c" stroke="#93b32c" stroke-width="2.6" stroke-linejoin="round"/><circle cx="1285.2" cy="114.8" r="3.1" fill="#a3bf35" opacity="0.7"/><circle cx="1278.0" cy="110.2" r="4.1" fill="#86a724" opacity="0.7"/><circle cx="1288.0" cy="105.9" r="4.1" fill="#adc640" opacity="0.7"/><circle cx="1283.2" cy="117.2" r="3.6" fill="#a3bf35" opacity="0.7"/><circle cx="1284.7" cy="114.7" r="2.9" fill="#86a724" opacity="0.7"/><circle cx="1276.0" cy="105.8" r="2.5" fill="#adc640" opacity="0.7"/><circle cx="1282.2" cy="105.7" r="3.5" fill="#a3bf35" opacity="0.7"/><circle cx="1275.0" cy="101.9" r="3.6" fill="#86a724" opacity="0.7"/><circle cx="1279.2" cy="102.4" r="2.3" fill="#adc640" opacity="0.7"/><circle cx="1278.3" cy="116.1" r="3.3" fill="#a3bf35" opacity="0.7"/></g>
<circle cx="1336.1" cy="110.9" r="13.3" fill="#000" opacity="0.3" filter="url(#bl1)"/><g filter="url(#texLeaf)"><path d="M1342.2,97.9 1343.7,101.9 1346.5,104.8 1346.2,108.7 1346.2,112.6 1344.1,115.8 1342.5,120.0 1338.0,120.3 1334.3,122.6 1330.6,120.1 1326.4,119.6 1325.3,115.2 1322.1,112.6 1322.2,108.7 1322.2,104.7 1324.5,101.6 1326.7,98.3 1330.8,97.7 1334.3,95.3 1337.9,97.6Z" fill="#235229" stroke="#235229" stroke-width="2.2" stroke-linejoin="round"/><circle cx="1334.6" cy="109.5" r="2.3" fill="#2d6233" opacity="0.7"/><circle cx="1333.9" cy="107.7" r="2.3" fill="#1b4423" opacity="0.7"/><circle cx="1337.3" cy="112.3" r="2.7" fill="#356b38" opacity="0.7"/><circle cx="1335.5" cy="107.7" r="2.2" fill="#2d6233" opacity="0.7"/><circle cx="1337.6" cy="105.5" r="2.8" fill="#1b4423" opacity="0.7"/><circle cx="1341.9" cy="104.5" r="3.0" fill="#356b38" opacity="0.7"/><circle cx="1331.2" cy="115.4" r="2.3" fill="#2d6233" opacity="0.7"/><circle cx="1332.1" cy="108.0" r="2.5" fill="#1b4423" opacity="0.7"/><circle cx="1338.5" cy="106.1" r="2.6" fill="#356b38" opacity="0.7"/><circle cx="1329.5" cy="108.8" r="2.3" fill="#2d6233" opacity="0.7"/></g>
<circle cx="1384.8" cy="110.9" r="14.2" fill="#000" opacity="0.3" filter="url(#bl1)"/><g filter="url(#texLeaf)"><path d="M1395.0,100.1 1394.3,104.2 1397.6,106.7 1395.2,110.0 1397.3,113.8 1393.2,115.5 1392.5,119.1 1389.2,120.0 1386.8,122.9 1383.2,122.5 1379.7,123.1 1377.0,120.7 1374.2,119.0 1372.0,116.6 1370.0,113.9 1369.9,110.5 1368.1,107.2 1371.0,104.4 1371.1,100.8 1374.1,99.0 1376.1,96.0 1379.6,95.8 1382.8,94.7 1385.8,96.5 1389.3,96.1 1391.5,98.7Z" fill="#93b32c" stroke="#93b32c" stroke-width="2.4" stroke-linejoin="round"/><circle cx="1373.9" cy="105.5" r="3.8" fill="#a3bf35" opacity="0.7"/><circle cx="1387.4" cy="102.3" r="2.2" fill="#86a724" opacity="0.7"/><circle cx="1383.4" cy="118.2" r="3.4" fill="#adc640" opacity="0.7"/><circle cx="1386.0" cy="102.4" r="3.1" fill="#a3bf35" opacity="0.7"/><circle cx="1387.3" cy="117.4" r="3.9" fill="#86a724" opacity="0.7"/><circle cx="1378.1" cy="101.9" r="3.0" fill="#adc640" opacity="0.7"/><circle cx="1386.2" cy="103.5" r="3.0" fill="#a3bf35" opacity="0.7"/><circle cx="1389.4" cy="107.4" r="3.8" fill="#86a724" opacity="0.7"/><circle cx="1384.5" cy="100.4" r="3.3" fill="#adc640" opacity="0.7"/><circle cx="1389.6" cy="101.5" r="3.5" fill="#a3bf35" opacity="0.7"/></g>
<circle cx="1440.8" cy="110.7" r="13.3" fill="#000" opacity="0.3" filter="url(#bl1)"/><g filter="url(#texLeaf)"><path d="M1442.9,95.4 1445.3,99.3 1449.7,100.3 1449.3,104.9 1451.7,108.2 1449.3,111.6 1449.9,116.0 1446.2,117.9 1443.6,121.6 1439.3,120.6 1435.3,121.0 1432.3,118.2 1428.0,116.9 1427.8,112.5 1425.8,108.8 1427.4,105.1 1427.9,100.9 1431.7,99.0 1434.4,95.5 1438.7,97.3Z" fill="#235229" stroke="#235229" stroke-width="2.2" stroke-linejoin="round"/><circle cx="1439.3" cy="105.9" r="2.8" fill="#2d6233" opacity="0.7"/><circle cx="1437.2" cy="107.6" r="2.7" fill="#1b4423" opacity="0.7"/><circle cx="1437.1" cy="114.5" r="2.5" fill="#356b38" opacity="0.7"/><circle cx="1445.7" cy="102.0" r="2.8" fill="#2d6233" opacity="0.7"/><circle cx="1442.6" cy="111.8" r="2.6" fill="#1b4423" opacity="0.7"/><circle cx="1432.5" cy="115.6" r="3.5" fill="#356b38" opacity="0.7"/><circle cx="1438.9" cy="100.9" r="2.3" fill="#2d6233" opacity="0.7"/><circle cx="1440.5" cy="117.4" r="3.6" fill="#1b4423" opacity="0.7"/><circle cx="1436.5" cy="108.1" r="2.7" fill="#356b38" opacity="0.7"/><circle cx="1443.9" cy="105.0" r="3.1" fill="#2d6233" opacity="0.7"/></g>
<circle cx="1496.1" cy="111.7" r="14.7" fill="#000" opacity="0.3" filter="url(#bl1)"/><g filter="url(#texLeaf)"><path d="M1478.9,106.7 1482.3,104.1 1483.0,100.7 1485.6,98.5 1488.3,96.2 1492.0,96.8 1495.2,95.2 1498.5,96.0 1501.6,97.5 1503.7,100.1 1506.6,102.1 1506.5,105.7 1508.2,108.7 1506.9,111.8 1507.3,115.4 1505.6,118.3 1503.3,120.9 1499.8,121.8 1497.1,124.7 1493.5,123.2 1489.6,124.5 1487.1,121.3 1483.4,120.4 1483.0,116.3 1479.4,114.1 1481.6,110.3Z" fill="#93b32c" stroke="#93b32c" stroke-width="2.5" stroke-linejoin="round"/><circle cx="1489.5" cy="103.2" r="2.6" fill="#a3bf35" opacity="0.7"/><circle cx="1493.8" cy="100.4" r="3.9" fill="#86a724" opacity="0.7"/><circle cx="1486.8" cy="106.4" r="2.2" fill="#adc640" opacity="0.7"/><circle cx="1487.7" cy="117.6" r="3.4" fill="#a3bf35" opacity="0.7"/><circle cx="1486.9" cy="116.6" r="2.2" fill="#86a724" opacity="0.7"/><circle cx="1488.9" cy="104.0" r="2.7" fill="#adc640" opacity="0.7"/><circle cx="1498.9" cy="112.9" r="3.4" fill="#a3bf35" opacity="0.7"/><circle cx="1496.1" cy="104.3" r="3.3" fill="#86a724" opacity="0.7"/><circle cx="1485.2" cy="104.0" r="2.4" fill="#adc640" opacity="0.7"/><circle cx="1494.1" cy="107.9" r="3.4" fill="#a3bf35" opacity="0.7"/></g>
<circle cx="1550.5" cy="110.9" r="13.3" fill="#000" opacity="0.3" filter="url(#bl1)"/><g filter="url(#texLeaf)"><path d="M1547.4,122.8 1544.4,118.9 1539.4,119.3 1538.9,114.5 1534.9,111.9 1536.5,107.6 1536.8,103.6 1540.1,101.2 1541.7,97.0 1546.3,98.1 1550.0,94.6 1553.5,97.5 1557.3,98.9 1558.3,102.9 1561.2,105.8 1560.3,109.7 1560.5,113.8 1556.8,115.8 1555.2,119.6 1551.2,119.5Z" fill="#235229" stroke="#235229" stroke-width="2.2" stroke-linejoin="round"/><circle cx="1550.1" cy="105.5" r="2.2" fill="#2d6233" opacity="0.7"/><circle cx="1541.4" cy="113.7" r="2.5" fill="#1b4423" opacity="0.7"/><circle cx="1539.8" cy="108.1" r="2.3" fill="#356b38" opacity="0.7"/><circle cx="1549.7" cy="116.1" r="3.6" fill="#2d6233" opacity="0.7"/><circle cx="1543.6" cy="110.8" r="2.4" fill="#1b4423" opacity="0.7"/><circle cx="1548.8" cy="103.0" r="2.3" fill="#356b38" opacity="0.7"/><circle cx="1545.2" cy="112.4" r="3.2" fill="#2d6233" opacity="0.7"/><circle cx="1554.3" cy="102.9" r="3.1" fill="#1b4423" opacity="0.7"/><circle cx="1545.4" cy="100.1" r="2.2" fill="#356b38" opacity="0.7"/><circle cx="1543.9" cy="108.7" r="2.4" fill="#2d6233" opacity="0.7"/></g>
<circle cx="1623.1" cy="110.9" r="14.7" fill="#000" opacity="0.3" filter="url(#bl1)"/><g filter="url(#texLeaf)"><path d="M1607.0,105.2 1609.2,102.3 1610.6,99.2 1614.0,98.2 1616.3,95.3 1619.7,95.4 1623.1,94.0 1626.1,96.1 1629.9,96.3 1631.7,99.5 1634.7,101.7 1634.6,105.4 1635.8,108.7 1633.6,111.7 1634.5,115.7 1631.9,118.1 1629.3,120.4 1626.0,121.1 1623.2,124.2 1619.6,122.9 1616.2,122.2 1613.9,119.4 1610.0,118.7 1608.7,115.3 1606.4,112.4 1607.6,108.7Z" fill="#93b32c" stroke="#93b32c" stroke-width="2.5" stroke-linejoin="round"/><circle cx="1612.3" cy="113.4" r="4.0" fill="#a3bf35" opacity="0.7"/><circle cx="1620.1" cy="99.1" r="2.3" fill="#86a724" opacity="0.7"/><circle cx="1622.6" cy="114.0" r="2.7" fill="#adc640" opacity="0.7"/><circle cx="1616.0" cy="106.7" r="3.0" fill="#a3bf35" opacity="0.7"/><circle cx="1620.3" cy="109.4" r="2.4" fill="#86a724" opacity="0.7"/><circle cx="1625.5" cy="111.7" r="3.5" fill="#adc640" opacity="0.7"/><circle cx="1614.0" cy="116.6" r="3.2" fill="#a3bf35" opacity="0.7"/><circle cx="1629.5" cy="110.3" r="2.6" fill="#86a724" opacity="0.7"/><circle cx="1614.8" cy="114.3" r="3.4" fill="#adc640" opacity="0.7"/><circle cx="1617.4" cy="118.1" r="2.3" fill="#a3bf35" opacity="0.7"/></g>
<circle cx="1696.3" cy="110.9" r="19.0" fill="#000" opacity="0.3" filter="url(#bl1)"/><g filter="url(#texLeaf)"><path d="M1674.6,111.2 1677.7,105.5 1678.4,99.9 1683.1,96.6 1686.3,91.2 1692.5,93.1 1698.2,89.3 1702.7,93.8 1708.3,95.7 1708.8,102.0 1713.3,106.3 1710.0,111.7 1710.2,117.3 1705.7,120.6 1702.3,125.3 1696.6,125.1 1691.0,126.9 1686.3,123.7 1680.6,121.7 1680.2,115.4Z" fill="#235229" stroke="#235229" stroke-width="3.2" stroke-linejoin="round"/><circle cx="1698.0" cy="110.5" r="4.8" fill="#2d6233" opacity="0.7"/><circle cx="1696.4" cy="99.5" r="3.5" fill="#1b4423" opacity="0.7"/><circle cx="1702.4" cy="98.1" r="4.4" fill="#356b38" opacity="0.7"/><circle cx="1692.4" cy="102.5" r="5.0" fill="#2d6233" opacity="0.7"/><circle cx="1690.7" cy="112.2" r="4.9" fill="#1b4423" opacity="0.7"/><circle cx="1684.3" cy="116.4" r="3.4" fill="#356b38" opacity="0.7"/><circle cx="1694.0" cy="108.8" r="4.0" fill="#2d6233" opacity="0.7"/><circle cx="1702.9" cy="101.6" r="3.0" fill="#1b4423" opacity="0.7"/><circle cx="1682.0" cy="107.8" r="5.1" fill="#356b38" opacity="0.7"/><circle cx="1685.0" cy="106.6" r="4.0" fill="#2d6233" opacity="0.7"/></g>
<circle cx="1234.3" cy="145.9" r="15.2" fill="#000" opacity="0.3" filter="url(#bl1)"/><g filter="url(#texLeaf)"><path d="M1248.8,144.0 1245.2,147.1 1245.3,150.7 1243.2,153.6 1240.5,155.7 1237.2,156.7 1234.1,159.3 1230.6,157.6 1226.8,157.9 1224.7,154.5 1221.2,153.4 1219.8,150.1 1217.9,147.0 1219.5,143.5 1217.3,139.7 1220.3,137.0 1221.0,133.1 1224.8,132.1 1227.5,129.6 1231.1,130.5 1234.6,128.5 1237.5,131.2 1241.0,131.9 1242.4,135.2 1246.1,136.9 1246.5,140.5Z" fill="#93b32c" stroke="#93b32c" stroke-width="2.6" stroke-linejoin="round"/><circle cx="1229.9" cy="141.6" r="2.9" fill="#a3bf35" opacity="0.7"/><circle cx="1228.3" cy="152.4" r="4.0" fill="#86a724" opacity="0.7"/><circle cx="1225.8" cy="148.9" r="2.4" fill="#adc640" opacity="0.7"/><circle cx="1233.0" cy="134.0" r="2.6" fill="#a3bf35" opacity="0.7"/><circle cx="1236.4" cy="150.4" r="2.6" fill="#86a724" opacity="0.7"/><circle cx="1231.3" cy="133.8" r="3.0" fill="#adc640" opacity="0.7"/><circle cx="1233.2" cy="147.7" r="3.7" fill="#a3bf35" opacity="0.7"/><circle cx="1242.8" cy="139.5" r="2.3" fill="#86a724" opacity="0.7"/><circle cx="1236.5" cy="145.8" r="2.8" fill="#adc640" opacity="0.7"/><circle cx="1236.3" cy="133.5" r="3.0" fill="#a3bf35" opacity="0.7"/></g>
<circle cx="1326.1" cy="145.9" r="15.2" fill="#000" opacity="0.3" filter="url(#bl1)"/><g filter="url(#texLeaf)"><path d="M1339.7,142.7 1337.6,146.1 1337.7,149.7 1334.9,151.9 1333.2,154.9 1329.9,156.0 1327.2,158.8 1323.5,157.5 1319.6,159.2 1316.8,156.2 1314.0,154.1 1312.0,151.2 1310.3,148.1 1310.6,144.6 1309.1,141.0 1312.4,138.4 1312.1,134.3 1316.0,133.2 1317.8,129.4 1321.7,130.1 1325.1,128.8 1328.3,130.5 1331.9,131.0 1333.6,134.3 1337.5,135.6 1337.2,139.6Z" fill="#93b32c" stroke="#93b32c" stroke-width="2.6" stroke-linejoin="round"/><circle cx="1332.8" cy="144.9" r="3.4" fill="#a3bf35" opacity="0.7"/><circle cx="1323.0" cy="140.9" r="2.8" fill="#86a724" opacity="0.7"/><circle cx="1325.0" cy="150.5" r="2.8" fill="#adc640" opacity="0.7"/><circle cx="1319.7" cy="151.9" r="3.2" fill="#a3bf35" opacity="0.7"/><circle cx="1319.9" cy="147.7" r="3.4" fill="#86a724" opacity="0.7"/><circle cx="1322.5" cy="141.9" r="3.9" fill="#adc640" opacity="0.7"/><circle cx="1326.3" cy="146.8" r="2.5" fill="#a3bf35" opacity="0.7"/><circle cx="1319.3" cy="146.2" r="2.7" fill="#86a724" opacity="0.7"/><circle cx="1322.8" cy="150.4" r="3.0" fill="#adc640" opacity="0.7"/><circle cx="1321.2" cy="150.2" r="3.3" fill="#a3bf35" opacity="0.7"/></g>
<circle cx="1422.5" cy="145.9" r="15.2" fill="#000" opacity="0.3" filter="url(#bl1)"/><g filter="url(#texLeaf)"><path d="M1436.0,138.3 1435.1,142.3 1435.7,145.9 1433.8,149.0 1433.8,153.2 1430.0,154.7 1427.7,157.9 1423.8,157.5 1420.3,159.1 1417.3,156.3 1413.0,157.6 1411.6,153.5 1408.5,151.7 1407.0,148.5 1405.8,145.2 1407.0,141.7 1405.8,137.7 1410.0,135.9 1410.8,132.0 1414.6,131.5 1417.5,129.3 1421.0,128.9 1424.8,128.6 1427.1,132.1 1431.4,132.2 1432.0,136.3Z" fill="#93b32c" stroke="#93b32c" stroke-width="2.6" stroke-linejoin="round"/><circle cx="1425.4" cy="143.4" r="2.9" fill="#a3bf35" opacity="0.7"/><circle cx="1411.0" cy="144.5" r="2.9" fill="#86a724" opacity="0.7"/><circle cx="1420.5" cy="143.3" r="3.5" fill="#adc640" opacity="0.7"/><circle cx="1412.7" cy="150.3" r="2.3" fill="#a3bf35" opacity="0.7"/><circle cx="1415.9" cy="141.2" r="2.3" fill="#86a724" opacity="0.7"/><circle cx="1422.7" cy="142.8" r="3.6" fill="#adc640" opacity="0.7"/><circle cx="1414.1" cy="152.7" r="3.8" fill="#a3bf35" opacity="0.7"/><circle cx="1423.5" cy="138.2" r="2.9" fill="#86a724" opacity="0.7"/><circle cx="1416.6" cy="151.3" r="2.5" fill="#adc640" opacity="0.7"/><circle cx="1422.5" cy="145.2" r="3.1" fill="#a3bf35" opacity="0.7"/></g>
<circle cx="1540.5" cy="145.9" r="15.2" fill="#000" opacity="0.3" filter="url(#bl1)"/><g filter="url(#texLeaf)"><path d="M1553.6,145.3 1551.2,148.2 1551.2,152.0 1548.3,154.2 1546.4,157.9 1542.2,157.3 1538.9,159.1 1535.7,156.4 1531.6,157.7 1529.3,154.7 1526.0,152.8 1525.6,148.9 1524.5,145.6 1525.4,142.3 1524.4,138.5 1526.6,135.6 1528.4,132.4 1532.3,132.0 1534.8,128.9 1538.5,129.1 1542.1,128.9 1545.0,131.3 1548.0,132.9 1549.7,135.9 1552.1,138.4 1552.9,141.8Z" fill="#93b32c" stroke="#93b32c" stroke-width="2.6" stroke-linejoin="round"/><circle cx="1546.5" cy="151.7" r="2.5" fill="#a3bf35" opacity="0.7"/><circle cx="1538.7" cy="148.4" r="2.9" fill="#86a724" opacity="0.7"/><circle cx="1544.1" cy="143.6" r="2.9" fill="#adc640" opacity="0.7"/><circle cx="1544.0" cy="147.3" r="3.0" fill="#a3bf35" opacity="0.7"/><circle cx="1528.3" cy="142.4" r="3.6" fill="#86a724" opacity="0.7"/><circle cx="1531.4" cy="140.9" r="2.7" fill="#adc640" opacity="0.7"/><circle cx="1530.7" cy="145.2" r="3.9" fill="#a3bf35" opacity="0.7"/><circle cx="1531.8" cy="148.4" r="4.0" fill="#86a724" opacity="0.7"/><circle cx="1540.8" cy="153.1" r="2.8" fill="#adc640" opacity="0.7"/><circle cx="1532.5" cy="134.4" r="2.9" fill="#a3bf35" opacity="0.7"/></g>
<circle cx="1713.1" cy="170.2" r="14.7" fill="#000" opacity="0.3" filter="url(#bl1)"/><g filter="url(#texLeaf)"><path d="M1697.5,169.9 1697.5,166.6 1698.1,163.2 1700.3,160.7 1701.5,157.4 1704.5,155.6 1707.3,153.0 1711.0,153.8 1714.6,153.4 1717.3,156.1 1720.4,157.3 1722.2,160.2 1725.7,162.3 1724.3,166.2 1726.5,169.6 1723.9,172.5 1723.7,176.2 1720.4,178.0 1718.0,180.3 1714.6,180.5 1711.6,183.6 1708.3,181.0 1704.7,181.1 1702.4,178.4 1699.1,176.8 1698.2,173.2Z" fill="#93b32c" stroke="#93b32c" stroke-width="2.5" stroke-linejoin="round"/><circle cx="1705.9" cy="161.5" r="3.6" fill="#a3bf35" opacity="0.7"/><circle cx="1717.8" cy="169.5" r="3.0" fill="#86a724" opacity="0.7"/><circle cx="1717.8" cy="161.6" r="2.8" fill="#adc640" opacity="0.7"/><circle cx="1716.0" cy="168.8" r="3.6" fill="#a3bf35" opacity="0.7"/><circle cx="1716.6" cy="158.6" r="3.5" fill="#86a724" opacity="0.7"/><circle cx="1710.3" cy="164.1" r="2.8" fill="#adc640" opacity="0.7"/><circle cx="1705.7" cy="159.1" r="2.5" fill="#a3bf35" opacity="0.7"/><circle cx="1712.3" cy="159.0" r="3.5" fill="#86a724" opacity="0.7"/><circle cx="1711.5" cy="157.8" r="2.7" fill="#adc640" opacity="0.7"/><circle cx="1710.4" cy="158.8" r="2.3" fill="#a3bf35" opacity="0.7"/></g>
<circle cx="1715.1" cy="233.5" r="14.2" fill="#000" opacity="0.3" filter="url(#bl1)"/><g filter="url(#texLeaf)"><path d="M1719.8,217.5 1722.3,221.8 1725.7,224.5 1725.7,229.0 1727.8,233.2 1724.8,236.7 1723.4,240.8 1718.9,241.6 1715.9,245.2 1711.7,243.9 1707.4,243.7 1704.9,240.2 1701.5,237.7 1701.9,233.4 1699.7,229.5 1702.7,226.3 1702.4,221.0 1707.1,219.9 1710.7,217.5 1715.0,218.3Z" fill="#235229" stroke="#235229" stroke-width="2.4" stroke-linejoin="round"/><circle cx="1720.4" cy="235.4" r="3.0" fill="#2d6233" opacity="0.7"/><circle cx="1713.7" cy="225.4" r="3.5" fill="#1b4423" opacity="0.7"/><circle cx="1709.7" cy="222.7" r="3.5" fill="#356b38" opacity="0.7"/><circle cx="1718.8" cy="239.3" r="3.2" fill="#2d6233" opacity="0.7"/><circle cx="1711.9" cy="236.7" r="3.2" fill="#1b4423" opacity="0.7"/><circle cx="1710.2" cy="230.9" r="3.4" fill="#356b38" opacity="0.7"/><circle cx="1707.7" cy="226.5" r="3.4" fill="#2d6233" opacity="0.7"/><circle cx="1717.5" cy="228.6" r="3.0" fill="#1b4423" opacity="0.7"/><circle cx="1720.2" cy="227.9" r="3.5" fill="#356b38" opacity="0.7"/><circle cx="1713.1" cy="221.5" r="2.9" fill="#2d6233" opacity="0.7"/></g>
<circle cx="1715.5" cy="298.5" r="14.2" fill="#000" opacity="0.3" filter="url(#bl1)"/><g filter="url(#texLeaf)"><path d="M1720.1,283.2 1721.6,286.9 1725.8,287.4 1725.8,291.4 1728.7,294.1 1727.1,297.6 1726.6,300.8 1724.2,303.2 1723.7,307.0 1720.2,307.9 1717.5,310.0 1714.1,309.9 1710.4,311.2 1708.2,307.5 1704.2,307.6 1703.3,303.9 1700.1,301.9 1700.5,298.3 1700.1,295.0 1701.8,292.1 1701.5,288.3 1704.7,286.7 1706.2,283.0 1710.4,284.3 1713.3,281.6 1716.5,283.7Z" fill="#93b32c" stroke="#93b32c" stroke-width="2.4" stroke-linejoin="round"/><circle cx="1718.0" cy="301.3" r="3.7" fill="#a3bf35" opacity="0.7"/><circle cx="1719.6" cy="304.6" r="3.4" fill="#86a724" opacity="0.7"/><circle cx="1714.8" cy="297.6" r="3.3" fill="#adc640" opacity="0.7"/><circle cx="1714.8" cy="290.6" r="3.6" fill="#a3bf35" opacity="0.7"/><circle cx="1712.8" cy="303.9" r="3.6" fill="#86a724" opacity="0.7"/><circle cx="1716.4" cy="294.6" r="3.2" fill="#adc640" opacity="0.7"/><circle cx="1713.8" cy="303.2" r="2.4" fill="#a3bf35" opacity="0.7"/><circle cx="1715.1" cy="292.0" r="3.6" fill="#86a724" opacity="0.7"/><circle cx="1717.5" cy="304.0" r="3.7" fill="#adc640" opacity="0.7"/><circle cx="1710.6" cy="291.4" r="3.4" fill="#a3bf35" opacity="0.7"/></g>
<circle cx="1060.5" cy="302.2" r="16.1" fill="#000" opacity="0.3" filter="url(#bl1)"/><g filter="url(#texLeaf)"><path d="M1051.0,313.7 1047.8,309.9 1044.9,306.3 1045.0,301.6 1041.8,296.5 1047.1,293.4 1047.2,287.4 1053.0,287.5 1056.8,283.1 1061.5,286.5 1066.6,286.1 1068.6,290.9 1074.1,293.0 1073.3,298.3 1073.9,303.1 1070.3,306.5 1069.3,311.6 1064.8,313.4 1060.6,316.9 1056.1,312.8Z" fill="#235229" stroke="#235229" stroke-width="2.7" stroke-linejoin="round"/><circle cx="1068.0" cy="297.9" r="2.4" fill="#2d6233" opacity="0.7"/><circle cx="1051.3" cy="308.4" r="3.1" fill="#1b4423" opacity="0.7"/><circle cx="1066.9" cy="298.6" r="3.6" fill="#356b38" opacity="0.7"/><circle cx="1063.2" cy="289.5" r="3.7" fill="#2d6233" opacity="0.7"/><circle cx="1052.8" cy="304.0" r="4.4" fill="#1b4423" opacity="0.7"/><circle cx="1059.6" cy="307.7" r="3.1" fill="#356b38" opacity="0.7"/><circle cx="1070.2" cy="300.5" r="3.3" fill="#2d6233" opacity="0.7"/><circle cx="1055.1" cy="294.8" r="4.2" fill="#1b4423" opacity="0.7"/><circle cx="1058.3" cy="301.4" r="3.8" fill="#356b38" opacity="0.7"/><circle cx="1049.9" cy="303.5" r="4.1" fill="#2d6233" opacity="0.7"/></g>
<circle cx="1105.3" cy="502.2" r="17.1" fill="#000" opacity="0.3" filter="url(#bl1)"/><g filter="url(#texLeaf)"><path d="M1087.3,494.7 1092.1,491.7 1093.0,485.6 1099.2,486.6 1103.5,482.2 1108.3,485.3 1114.0,485.5 1115.3,491.4 1120.6,494.5 1118.2,500.0 1118.8,505.0 1116.1,509.2 1113.9,514.4 1107.9,513.5 1103.5,516.9 1098.8,514.3 1094.0,513.1 1092.2,508.2 1088.1,505.0 1088.0,500.0Z" fill="#235229" stroke="#235229" stroke-width="2.9" stroke-linejoin="round"/><circle cx="1093.8" cy="498.1" r="4.6" fill="#2d6233" opacity="0.7"/><circle cx="1109.9" cy="489.2" r="2.7" fill="#1b4423" opacity="0.7"/><circle cx="1115.7" cy="499.3" r="2.9" fill="#356b38" opacity="0.7"/><circle cx="1104.1" cy="499.4" r="2.6" fill="#2d6233" opacity="0.7"/><circle cx="1096.3" cy="508.9" r="3.6" fill="#1b4423" opacity="0.7"/><circle cx="1106.4" cy="505.0" r="2.6" fill="#356b38" opacity="0.7"/><circle cx="1096.5" cy="494.8" r="3.4" fill="#2d6233" opacity="0.7"/><circle cx="1108.9" cy="496.7" r="3.2" fill="#1b4423" opacity="0.7"/><circle cx="1107.7" cy="509.4" r="4.5" fill="#356b38" opacity="0.7"/><circle cx="1103.7" cy="495.8" r="3.9" fill="#2d6233" opacity="0.7"/></g>
<circle cx="1136.1" cy="564.2" r="14.2" fill="#000" opacity="0.3" filter="url(#bl1)"/><g filter="url(#texLeaf)"><path d="M1148.3,563.8 1144.7,566.9 1144.2,571.4 1139.9,572.2 1136.8,575.2 1132.7,574.1 1128.2,574.8 1126.4,570.4 1120.9,569.3 1122.7,564.2 1120.8,560.3 1123.7,556.9 1124.3,552.6 1128.2,550.9 1131.7,548.2 1135.8,550.1 1140.8,548.3 1142.8,553.0 1147.1,555.0 1146.1,559.8Z" fill="#235229" stroke="#235229" stroke-width="2.4" stroke-linejoin="round"/><circle cx="1135.1" cy="554.6" r="3.6" fill="#2d6233" opacity="0.7"/><circle cx="1144.2" cy="564.3" r="2.4" fill="#1b4423" opacity="0.7"/><circle cx="1137.1" cy="560.4" r="3.3" fill="#356b38" opacity="0.7"/><circle cx="1136.6" cy="571.5" r="2.6" fill="#2d6233" opacity="0.7"/><circle cx="1134.6" cy="571.5" r="2.7" fill="#1b4423" opacity="0.7"/><circle cx="1136.0" cy="562.0" r="2.3" fill="#356b38" opacity="0.7"/><circle cx="1137.7" cy="562.8" r="2.5" fill="#2d6233" opacity="0.7"/><circle cx="1131.0" cy="563.2" r="3.0" fill="#1b4423" opacity="0.7"/><circle cx="1144.4" cy="564.2" r="2.7" fill="#356b38" opacity="0.7"/><circle cx="1140.3" cy="564.1" r="3.6" fill="#2d6233" opacity="0.7"/></g>
<circle cx="1131.8" cy="598.5" r="14.2" fill="#000" opacity="0.3" filter="url(#bl1)"/><g filter="url(#texLeaf)"><path d="M1115.9,594.9 1117.6,591.8 1118.1,588.4 1121.1,586.6 1123.2,584.0 1126.5,583.3 1129.7,582.6 1132.7,584.3 1136.5,583.3 1138.5,586.4 1142.1,587.6 1141.8,591.6 1144.6,594.2 1143.6,597.7 1142.9,600.9 1140.8,603.5 1140.2,607.4 1136.0,607.2 1133.6,609.9 1130.2,608.7 1127.0,609.7 1124.1,608.1 1120.3,607.6 1118.9,604.3 1117.4,601.4 1117.3,598.1Z" fill="#93b32c" stroke="#93b32c" stroke-width="2.4" stroke-linejoin="round"/><circle cx="1124.8" cy="603.5" r="2.1" fill="#a3bf35" opacity="0.7"/><circle cx="1122.7" cy="602.1" r="2.8" fill="#86a724" opacity="0.7"/><circle cx="1134.2" cy="590.3" r="3.3" fill="#adc640" opacity="0.7"/><circle cx="1120.4" cy="596.9" r="3.9" fill="#a3bf35" opacity="0.7"/><circle cx="1134.9" cy="600.6" r="2.7" fill="#86a724" opacity="0.7"/><circle cx="1130.6" cy="605.5" r="2.5" fill="#adc640" opacity="0.7"/><circle cx="1129.6" cy="603.8" r="2.8" fill="#a3bf35" opacity="0.7"/><circle cx="1135.4" cy="587.9" r="2.8" fill="#86a724" opacity="0.7"/><circle cx="1135.9" cy="590.9" r="3.2" fill="#adc640" opacity="0.7"/><circle cx="1129.0" cy="605.7" r="3.3" fill="#a3bf35" opacity="0.7"/></g>
<circle cx="1140.5" cy="673.5" r="14.2" fill="#000" opacity="0.3" filter="url(#bl1)"/><g filter="url(#texLeaf)"><path d="M1153.4,675.0 1150.8,677.8 1148.9,680.5 1146.4,682.7 1143.4,684.1 1140.2,684.7 1137.0,684.7 1133.9,683.5 1130.0,683.6 1129.1,679.7 1125.3,678.2 1125.5,674.4 1123.7,671.2 1126.6,668.2 1126.4,664.7 1128.6,662.2 1130.3,659.0 1134.0,658.7 1137.0,656.1 1140.5,657.5 1144.2,657.2 1146.3,660.4 1149.8,661.6 1150.8,665.1 1152.9,667.9 1150.9,671.4Z" fill="#93b32c" stroke="#93b32c" stroke-width="2.4" stroke-linejoin="round"/><circle cx="1136.4" cy="675.3" r="3.0" fill="#a3bf35" opacity="0.7"/><circle cx="1143.8" cy="669.2" r="2.4" fill="#86a724" opacity="0.7"/><circle cx="1131.8" cy="669.8" r="2.5" fill="#adc640" opacity="0.7"/><circle cx="1133.3" cy="665.4" r="2.2" fill="#a3bf35" opacity="0.7"/><circle cx="1137.3" cy="680.2" r="3.4" fill="#86a724" opacity="0.7"/><circle cx="1130.3" cy="674.1" r="3.2" fill="#adc640" opacity="0.7"/><circle cx="1144.2" cy="676.1" r="3.3" fill="#a3bf35" opacity="0.7"/><circle cx="1137.0" cy="674.8" r="3.5" fill="#86a724" opacity="0.7"/><circle cx="1132.9" cy="665.8" r="2.4" fill="#adc640" opacity="0.7"/><circle cx="1128.8" cy="671.1" r="2.6" fill="#a3bf35" opacity="0.7"/></g>
<circle cx="1119.3" cy="759.7" r="17.1" fill="#000" opacity="0.3" filter="url(#bl1)"/><g filter="url(#texLeaf)"><path d="M1105.6,770.0 1105.4,764.1 1099.6,760.8 1102.2,755.5 1102.4,750.3 1106.2,746.7 1108.9,741.7 1114.7,742.5 1119.9,739.5 1124.2,743.5 1129.1,745.4 1130.2,750.6 1134.1,754.5 1132.2,759.5 1132.9,764.9 1128.4,767.8 1125.7,772.7 1120.3,772.5 1115.3,773.7 1111.0,771.1Z" fill="#235229" stroke="#235229" stroke-width="2.9" stroke-linejoin="round"/><circle cx="1113.0" cy="763.3" r="3.1" fill="#2d6233" opacity="0.7"/><circle cx="1109.3" cy="757.3" r="3.1" fill="#1b4423" opacity="0.7"/><circle cx="1112.3" cy="756.8" r="3.7" fill="#356b38" opacity="0.7"/><circle cx="1119.5" cy="753.7" r="3.4" fill="#2d6233" opacity="0.7"/><circle cx="1113.4" cy="758.6" r="3.8" fill="#1b4423" opacity="0.7"/><circle cx="1108.4" cy="755.3" r="4.1" fill="#356b38" opacity="0.7"/><circle cx="1121.0" cy="768.3" r="3.4" fill="#2d6233" opacity="0.7"/><circle cx="1114.6" cy="766.7" r="3.9" fill="#1b4423" opacity="0.7"/><circle cx="1121.3" cy="755.8" r="4.5" fill="#356b38" opacity="0.7"/><circle cx="1110.1" cy="752.2" r="4.4" fill="#2d6233" opacity="0.7"/></g>
<circle cx="1149.8" cy="850.2" r="17.1" fill="#000" opacity="0.3" filter="url(#bl1)"/><g filter="url(#texLeaf)"><path d="M1162.3,837.5 1162.3,843.3 1165.7,847.9 1162.1,852.5 1161.9,858.0 1156.5,859.6 1153.6,865.0 1148.1,862.9 1143.0,863.7 1139.8,859.4 1134.0,858.3 1134.5,852.5 1130.1,848.1 1133.5,843.4 1133.1,837.3 1139.7,836.8 1142.7,831.8 1147.9,832.8 1153.5,830.9 1157.1,835.4Z" fill="#235229" stroke="#235229" stroke-width="2.9" stroke-linejoin="round"/><circle cx="1157.4" cy="846.6" r="3.2" fill="#2d6233" opacity="0.7"/><circle cx="1151.8" cy="849.3" r="4.7" fill="#1b4423" opacity="0.7"/><circle cx="1147.5" cy="845.9" r="4.2" fill="#356b38" opacity="0.7"/><circle cx="1141.9" cy="839.1" r="2.7" fill="#2d6233" opacity="0.7"/><circle cx="1143.4" cy="837.4" r="3.1" fill="#1b4423" opacity="0.7"/><circle cx="1160.1" cy="845.9" r="3.8" fill="#356b38" opacity="0.7"/><circle cx="1152.3" cy="853.0" r="3.0" fill="#2d6233" opacity="0.7"/><circle cx="1152.7" cy="845.1" r="4.6" fill="#1b4423" opacity="0.7"/><circle cx="1150.1" cy="843.1" r="3.5" fill="#356b38" opacity="0.7"/><circle cx="1142.3" cy="841.0" r="2.6" fill="#2d6233" opacity="0.7"/></g>
<circle cx="1247.8" cy="838.2" r="14.2" fill="#000" opacity="0.3" filter="url(#bl1)"/><g filter="url(#texLeaf)"><path d="M1259.5,837.4 1257.5,841.1 1256.1,845.1 1252.2,846.7 1249.1,850.3 1244.7,848.9 1240.0,849.5 1237.3,845.7 1233.2,843.4 1234.6,838.4 1231.1,834.4 1235.0,831.1 1235.9,826.9 1239.5,824.7 1243.1,822.5 1247.3,823.1 1251.8,822.9 1253.8,827.3 1259.0,828.5 1257.3,833.6Z" fill="#235229" stroke="#235229" stroke-width="2.4" stroke-linejoin="round"/><circle cx="1255.3" cy="837.4" r="3.0" fill="#2d6233" opacity="0.7"/><circle cx="1243.5" cy="833.0" r="3.6" fill="#1b4423" opacity="0.7"/><circle cx="1245.4" cy="837.2" r="3.8" fill="#356b38" opacity="0.7"/><circle cx="1242.3" cy="826.6" r="2.3" fill="#2d6233" opacity="0.7"/><circle cx="1248.7" cy="843.5" r="3.5" fill="#1b4423" opacity="0.7"/><circle cx="1245.9" cy="839.7" r="3.9" fill="#356b38" opacity="0.7"/><circle cx="1243.2" cy="831.0" r="2.1" fill="#2d6233" opacity="0.7"/><circle cx="1240.9" cy="829.9" r="2.6" fill="#1b4423" opacity="0.7"/><circle cx="1243.8" cy="842.8" r="3.6" fill="#356b38" opacity="0.7"/><circle cx="1252.6" cy="842.0" r="2.6" fill="#2d6233" opacity="0.7"/></g>
<circle cx="1543.3" cy="304.2" r="11.4" fill="#000" opacity="0.3" filter="url(#bl1)"/><g filter="url(#texLeaf)"><path d="M1553.2,302.2 1552.2,304.8 1552.2,307.8 1549.1,308.9 1548.3,312.1 1545.2,312.0 1542.7,313.5 1540.0,312.7 1537.3,312.7 1535.2,310.9 1532.6,309.6 1531.8,306.9 1530.7,304.5 1531.8,301.9 1530.9,299.2 1532.6,297.2 1532.6,293.9 1535.3,292.8 1537.4,290.8 1540.4,292.1 1543.0,290.6 1545.4,292.1 1547.8,293.2 1549.2,295.4 1551.2,297.1 1552.2,299.5Z" fill="#93b32c" stroke="#93b32c" stroke-width="1.9" stroke-linejoin="round"/><circle cx="1544.8" cy="305.8" r="2.7" fill="#a3bf35" opacity="0.7"/><circle cx="1536.6" cy="306.3" r="2.0" fill="#86a724" opacity="0.7"/><circle cx="1544.3" cy="298.5" r="2.3" fill="#adc640" opacity="0.7"/><circle cx="1545.9" cy="303.6" r="2.6" fill="#a3bf35" opacity="0.7"/><circle cx="1542.6" cy="304.0" r="2.0" fill="#86a724" opacity="0.7"/><circle cx="1549.6" cy="302.1" r="2.5" fill="#adc640" opacity="0.7"/><circle cx="1544.4" cy="302.6" r="2.6" fill="#a3bf35" opacity="0.7"/><circle cx="1545.0" cy="303.7" r="3.0" fill="#86a724" opacity="0.7"/><circle cx="1538.8" cy="295.3" r="2.4" fill="#adc640" opacity="0.7"/><circle cx="1545.8" cy="308.4" r="2.2" fill="#a3bf35" opacity="0.7"/></g>
<circle cx="1626.8" cy="306.2" r="14.2" fill="#000" opacity="0.3" filter="url(#bl1)"/><g filter="url(#texLeaf)"><path d="M1620.2,290.3 1624.8,291.7 1629.3,289.7 1631.7,294.3 1636.0,295.7 1637.0,299.9 1638.5,303.7 1636.4,307.5 1637.3,312.6 1631.9,313.2 1630.0,318.4 1625.2,316.7 1621.0,317.3 1617.6,314.6 1614.0,312.3 1613.7,307.9 1610.2,304.3 1613.2,300.4 1613.7,296.1 1617.6,294.3Z" fill="#235229" stroke="#235229" stroke-width="2.4" stroke-linejoin="round"/><circle cx="1623.4" cy="314.2" r="2.2" fill="#2d6233" opacity="0.7"/><circle cx="1631.9" cy="304.9" r="3.8" fill="#1b4423" opacity="0.7"/><circle cx="1616.6" cy="309.9" r="3.6" fill="#356b38" opacity="0.7"/><circle cx="1633.7" cy="302.2" r="2.3" fill="#2d6233" opacity="0.7"/><circle cx="1626.0" cy="304.0" r="3.0" fill="#1b4423" opacity="0.7"/><circle cx="1632.9" cy="301.4" r="3.5" fill="#356b38" opacity="0.7"/><circle cx="1627.7" cy="302.2" r="3.7" fill="#2d6233" opacity="0.7"/><circle cx="1628.0" cy="309.4" r="3.9" fill="#1b4423" opacity="0.7"/><circle cx="1616.1" cy="301.3" r="3.5" fill="#356b38" opacity="0.7"/><circle cx="1627.1" cy="297.3" r="2.8" fill="#2d6233" opacity="0.7"/></g>
<circle cx="1709.3" cy="445.2" r="18.1" fill="#000" opacity="0.3" filter="url(#bl1)"/><g filter="url(#texLeaf)"><path d="M1726.1,445.3 1721.3,449.5 1721.1,455.7 1714.9,456.4 1710.8,460.0 1705.5,458.8 1699.7,459.7 1696.4,454.9 1690.9,452.2 1692.4,445.9 1689.3,440.7 1693.3,436.3 1693.5,429.9 1700.0,429.4 1703.9,424.1 1709.5,426.6 1714.7,427.6 1717.9,431.9 1723.4,434.2 1722.5,440.1Z" fill="#235229" stroke="#235229" stroke-width="3.0" stroke-linejoin="round"/><circle cx="1717.4" cy="439.4" r="4.5" fill="#2d6233" opacity="0.7"/><circle cx="1703.4" cy="451.1" r="2.9" fill="#1b4423" opacity="0.7"/><circle cx="1709.2" cy="433.2" r="4.3" fill="#356b38" opacity="0.7"/><circle cx="1715.3" cy="437.0" r="4.0" fill="#2d6233" opacity="0.7"/><circle cx="1715.0" cy="438.8" r="4.2" fill="#1b4423" opacity="0.7"/><circle cx="1716.6" cy="450.8" r="3.8" fill="#356b38" opacity="0.7"/><circle cx="1705.0" cy="445.9" r="4.5" fill="#2d6233" opacity="0.7"/><circle cx="1697.2" cy="445.0" r="4.0" fill="#1b4423" opacity="0.7"/><circle cx="1699.6" cy="448.1" r="3.3" fill="#356b38" opacity="0.7"/><circle cx="1696.8" cy="444.6" r="4.9" fill="#2d6233" opacity="0.7"/></g>
<circle cx="1698.1" cy="588.5" r="17.1" fill="#000" opacity="0.3" filter="url(#bl1)"/><g filter="url(#texLeaf)"><path d="M1678.8,586.0 1683.1,581.8 1682.6,576.0 1688.0,574.5 1691.5,570.8 1696.5,571.7 1701.6,570.8 1705.2,574.5 1709.9,576.8 1710.7,581.9 1714.5,586.6 1710.9,591.3 1709.9,596.5 1704.9,598.6 1701.3,602.7 1696.0,601.5 1690.7,602.6 1686.9,598.8 1682.8,595.7 1681.7,590.8Z" fill="#235229" stroke="#235229" stroke-width="2.9" stroke-linejoin="round"/><circle cx="1685.4" cy="582.5" r="2.8" fill="#2d6233" opacity="0.7"/><circle cx="1686.4" cy="584.9" r="3.5" fill="#1b4423" opacity="0.7"/><circle cx="1692.4" cy="590.3" r="4.1" fill="#356b38" opacity="0.7"/><circle cx="1686.2" cy="588.5" r="2.9" fill="#2d6233" opacity="0.7"/><circle cx="1697.3" cy="591.1" r="4.0" fill="#1b4423" opacity="0.7"/><circle cx="1695.8" cy="574.0" r="3.4" fill="#356b38" opacity="0.7"/><circle cx="1690.0" cy="588.4" r="4.4" fill="#2d6233" opacity="0.7"/><circle cx="1701.0" cy="574.6" r="2.7" fill="#1b4423" opacity="0.7"/><circle cx="1683.8" cy="587.1" r="3.9" fill="#356b38" opacity="0.7"/><circle cx="1702.7" cy="583.3" r="2.9" fill="#2d6233" opacity="0.7"/></g>
<circle cx="1673.1" cy="768.5" r="17.1" fill="#000" opacity="0.3" filter="url(#bl1)"/><g filter="url(#texLeaf)"><path d="M1669.8,784.2 1665.4,780.4 1660.6,778.7 1658.2,774.2 1654.8,770.2 1656.5,765.1 1655.0,759.4 1660.1,756.6 1662.9,752.4 1668.0,752.1 1672.7,750.0 1677.1,752.4 1682.8,753.0 1684.1,758.5 1688.7,762.2 1687.0,767.6 1686.6,772.7 1682.9,776.3 1680.1,780.8 1674.8,781.3Z" fill="#235229" stroke="#235229" stroke-width="2.9" stroke-linejoin="round"/><circle cx="1659.9" cy="770.1" r="2.9" fill="#2d6233" opacity="0.7"/><circle cx="1674.0" cy="773.0" r="4.5" fill="#1b4423" opacity="0.7"/><circle cx="1660.7" cy="771.0" r="3.8" fill="#356b38" opacity="0.7"/><circle cx="1666.5" cy="761.0" r="4.0" fill="#2d6233" opacity="0.7"/><circle cx="1679.6" cy="774.9" r="3.0" fill="#1b4423" opacity="0.7"/><circle cx="1674.3" cy="758.2" r="4.3" fill="#356b38" opacity="0.7"/><circle cx="1673.4" cy="777.8" r="3.6" fill="#2d6233" opacity="0.7"/><circle cx="1677.3" cy="772.5" r="4.0" fill="#1b4423" opacity="0.7"/><circle cx="1675.7" cy="772.4" r="3.2" fill="#356b38" opacity="0.7"/><circle cx="1670.5" cy="757.6" r="3.6" fill="#2d6233" opacity="0.7"/></g>
<circle cx="1412.3" cy="405.0" r="3.8" fill="#000" opacity="0.25" filter="url(#bl05)"/>
<polygon points="1416.5,405.5 1413.2,405.4 1413.9,408.6 1411.7,406.2 1410.0,409.0 1410.1,405.7 1406.9,406.4 1409.3,404.2 1406.5,402.5 1409.8,402.6 1409.1,399.4 1411.3,401.8 1413.0,399.0 1412.9,402.3 1416.1,401.6 1413.7,403.8" fill="#3c5a2e" />
<circle cx="1411.5" cy="404.0" r="1.8" fill="#587a3c" />
<circle cx="1313.3" cy="453.0" r="3.8" fill="#000" opacity="0.25" filter="url(#bl05)"/>
<polygon points="1317.5,453.5 1314.2,453.4 1314.9,456.6 1312.7,454.2 1311.0,457.0 1311.1,453.7 1307.9,454.4 1310.3,452.2 1307.5,450.5 1310.8,450.6 1310.1,447.4 1312.3,449.8 1314.0,447.0 1313.9,450.3 1317.1,449.6 1314.7,451.8" fill="#3c5a2e" />
<circle cx="1312.5" cy="452.0" r="1.8" fill="#587a3c" />
<circle cx="1382.8" cy="539.5" r="3.8" fill="#000" opacity="0.25" filter="url(#bl05)"/>
<polygon points="1387.0,540.0 1383.7,539.9 1384.4,543.1 1382.2,540.7 1380.5,543.5 1380.6,540.2 1377.4,540.9 1379.8,538.7 1377.0,537.0 1380.3,537.1 1379.6,533.9 1381.8,536.3 1383.5,533.5 1383.4,536.8 1386.6,536.1 1384.2,538.3" fill="#3c5a2e" />
<circle cx="1382.0" cy="538.5" r="1.8" fill="#587a3c" />
<circle cx="1444.8" cy="579.5" r="3.8" fill="#000" opacity="0.25" filter="url(#bl05)"/>
<polygon points="1449.0,580.0 1445.7,579.9 1446.4,583.1 1444.2,580.7 1442.5,583.5 1442.6,580.2 1439.4,580.9 1441.8,578.7 1439.0,577.0 1442.3,577.1 1441.6,573.9 1443.8,576.3 1445.5,573.5 1445.4,576.8 1448.6,576.1 1446.2,578.3" fill="#3c5a2e" />
<circle cx="1444.0" cy="578.5" r="1.8" fill="#587a3c" />
<circle cx="1399.3" cy="660.5" r="3.8" fill="#000" opacity="0.25" filter="url(#bl05)"/>
<polygon points="1403.5,661.0 1400.2,660.9 1400.9,664.1 1398.7,661.7 1397.0,664.5 1397.1,661.2 1393.9,661.9 1396.3,659.7 1393.5,658.0 1396.8,658.1 1396.1,654.9 1398.3,657.3 1400.0,654.5 1399.9,657.8 1403.1,657.1 1400.7,659.3" fill="#3c5a2e" />
<circle cx="1398.5" cy="659.5" r="1.8" fill="#587a3c" />
<circle cx="1399.3" cy="673.5" r="3.8" fill="#000" opacity="0.25" filter="url(#bl05)"/>
<polygon points="1403.5,674.0 1400.2,673.9 1400.9,677.1 1398.7,674.7 1397.0,677.5 1397.1,674.2 1393.9,674.9 1396.3,672.7 1393.5,671.0 1396.8,671.1 1396.1,667.9 1398.3,670.3 1400.0,667.5 1399.9,670.8 1403.1,670.1 1400.7,672.3" fill="#3c5a2e" />
<circle cx="1398.5" cy="672.5" r="1.8" fill="#587a3c" />
<circle cx="1093.1" cy="159.4" r="15.7" fill="#000" opacity="0.3" filter="url(#bl1)"/><circle cx="1092.5" cy="158.0" r="15.2" fill="#9f1a17"/><text x="1092.5" y="163.9" font-size="16.3" font-weight="bold" fill="#fff" text-anchor="middle" textLength="16.9" lengthAdjust="spacingAndGlyphs">22</text>
<circle cx="1173.9" cy="183.4" r="15.7" fill="#000" opacity="0.3" filter="url(#bl1)"/><circle cx="1173.3" cy="182.0" r="15.2" fill="#9f1a17"/><text x="1173.3" y="187.9" font-size="16.3" font-weight="bold" fill="#fff" text-anchor="middle" textLength="16.9" lengthAdjust="spacingAndGlyphs">23</text>
<circle cx="1266.1" cy="192.1" r="15.7" fill="#000" opacity="0.3" filter="url(#bl1)"/><circle cx="1265.5" cy="190.7" r="15.2" fill="#9f1a17"/><text x="1265.5" y="196.6" font-size="16.3" font-weight="bold" fill="#fff" text-anchor="middle" textLength="16.9" lengthAdjust="spacingAndGlyphs">25</text>
<circle cx="1075.9" cy="242.7" r="15.7" fill="#000" opacity="0.3" filter="url(#bl1)"/><circle cx="1075.3" cy="241.3" r="15.2" fill="#9f1a17"/><text x="1075.3" y="247.2" font-size="16.3" font-weight="bold" fill="#fff" text-anchor="middle" textLength="16.9" lengthAdjust="spacingAndGlyphs">21</text>
<circle cx="1202.3" cy="235.7" r="15.7" fill="#000" opacity="0.3" filter="url(#bl1)"/><circle cx="1201.7" cy="234.3" r="15.2" fill="#9f1a17"/><text x="1201.7" y="240.2" font-size="16.3" font-weight="bold" fill="#fff" text-anchor="middle" textLength="16.9" lengthAdjust="spacingAndGlyphs">24</text>
<circle cx="1261.9" cy="241.4" r="15.7" fill="#000" opacity="0.3" filter="url(#bl1)"/><circle cx="1261.3" cy="240.0" r="15.2" fill="#9f1a17"/><text x="1261.3" y="245.9" font-size="16.3" font-weight="bold" fill="#fff" text-anchor="middle" textLength="16.9" lengthAdjust="spacingAndGlyphs">20</text>
<circle cx="1326.9" cy="240.1" r="15.7" fill="#000" opacity="0.3" filter="url(#bl1)"/><circle cx="1326.3" cy="238.7" r="15.2" fill="#9f1a17"/><text x="1326.3" y="244.6" font-size="16.3" font-weight="bold" fill="#fff" text-anchor="middle" textLength="16.9" lengthAdjust="spacingAndGlyphs">20</text>
<circle cx="1508.6" cy="203.9" r="15.7" fill="#000" opacity="0.3" filter="url(#bl1)"/><circle cx="1508.0" cy="202.5" r="15.2" fill="#9f1a17"/><text x="1508.0" y="208.4" font-size="16.3" font-weight="bold" fill="#fff" text-anchor="middle" textLength="16.9" lengthAdjust="spacingAndGlyphs">26</text>
<circle cx="1656.9" cy="208.9" r="15.7" fill="#000" opacity="0.3" filter="url(#bl1)"/><circle cx="1656.3" cy="207.5" r="15.2" fill="#9f1a17"/><text x="1656.3" y="213.4" font-size="16.3" font-weight="bold" fill="#fff" text-anchor="middle" textLength="16.9" lengthAdjust="spacingAndGlyphs">27</text>
<circle cx="1496.9" cy="268.9" r="15.7" fill="#000" opacity="0.3" filter="url(#bl1)"/><circle cx="1496.3" cy="267.5" r="15.2" fill="#9f1a17"/><text x="1496.3" y="273.4" font-size="16.3" font-weight="bold" fill="#fff" text-anchor="middle" textLength="16.9" lengthAdjust="spacingAndGlyphs">20</text>
<circle cx="1675.6" cy="300.1" r="15.7" fill="#000" opacity="0.3" filter="url(#bl1)"/><circle cx="1675.0" cy="298.7" r="15.2" fill="#9f1a17"/><text x="1675.0" y="304.6" font-size="16.3" font-weight="bold" fill="#fff" text-anchor="middle" textLength="16.9" lengthAdjust="spacingAndGlyphs">28</text>
<circle cx="1670.6" cy="347.7" r="15.7" fill="#000" opacity="0.3" filter="url(#bl1)"/><circle cx="1670.0" cy="346.3" r="15.2" fill="#9f1a17"/><text x="1670.0" y="352.2" font-size="16.3" font-weight="bold" fill="#fff" text-anchor="middle" textLength="16.9" lengthAdjust="spacingAndGlyphs">29</text>
<circle cx="1115.9" cy="410.1" r="15.7" fill="#000" opacity="0.3" filter="url(#bl1)"/><circle cx="1115.3" cy="408.7" r="15.2" fill="#9f1a17"/><text x="1115.3" y="414.6" font-size="16.3" font-weight="bold" fill="#fff" text-anchor="middle" textLength="16.9" lengthAdjust="spacingAndGlyphs">19</text>
<circle cx="1239.3" cy="378.4" r="15.7" fill="#000" opacity="0.3" filter="url(#bl1)"/><circle cx="1238.7" cy="377.0" r="15.2" fill="#9f1a17"/><text x="1238.7" y="382.9" font-size="16.3" font-weight="bold" fill="#fff" text-anchor="middle" textLength="16.9" lengthAdjust="spacingAndGlyphs">20</text>
<circle cx="1386.3" cy="469.9" r="15.7" fill="#000" opacity="0.3" filter="url(#bl1)"/><circle cx="1385.7" cy="468.5" r="15.2" fill="#9f1a17"/><text x="1385.7" y="474.4" font-size="16.3" font-weight="bold" fill="#fff" text-anchor="middle" textLength="16.9" lengthAdjust="spacingAndGlyphs">16</text>
<circle cx="1330.6" cy="501.4" r="15.7" fill="#000" opacity="0.3" filter="url(#bl1)"/><circle cx="1330.0" cy="500.0" r="15.2" fill="#9f1a17"/><text x="1330.0" y="505.9" font-size="16.3" font-weight="bold" fill="#fff" text-anchor="middle" textLength="16.9" lengthAdjust="spacingAndGlyphs">17</text>
<circle cx="1273.3" cy="504.9" r="15.7" fill="#000" opacity="0.3" filter="url(#bl1)"/><circle cx="1272.7" cy="503.5" r="15.2" fill="#9f1a17"/><text x="1272.7" y="509.4" font-size="16.3" font-weight="bold" fill="#fff" text-anchor="middle" textLength="16.9" lengthAdjust="spacingAndGlyphs">18</text>
<circle cx="1468.6" cy="509.9" r="15.7" fill="#000" opacity="0.3" filter="url(#bl1)"/><circle cx="1468.0" cy="508.5" r="15.2" fill="#9f1a17"/><text x="1468.0" y="514.4" font-size="16.3" font-weight="bold" fill="#fff" text-anchor="middle" textLength="16.9" lengthAdjust="spacingAndGlyphs">15</text>
<circle cx="1486.3" cy="555.1" r="15.7" fill="#000" opacity="0.3" filter="url(#bl1)"/><circle cx="1485.7" cy="553.7" r="15.2" fill="#9f1a17"/><text x="1485.7" y="559.6" font-size="16.3" font-weight="bold" fill="#fff" text-anchor="middle" textLength="16.9" lengthAdjust="spacingAndGlyphs">13</text>
<circle cx="1580.6" cy="557.7" r="15.7" fill="#000" opacity="0.3" filter="url(#bl1)"/><circle cx="1580.0" cy="556.3" r="15.2" fill="#9f1a17"/><text x="1580.0" y="562.2" font-size="16.3" font-weight="bold" fill="#fff" text-anchor="middle" textLength="16.9" lengthAdjust="spacingAndGlyphs">14</text>
<circle cx="1424.9" cy="589.4" r="15.7" fill="#000" opacity="0.3" filter="url(#bl1)"/><circle cx="1424.3" cy="588.0" r="15.2" fill="#9f1a17"/><text x="1424.3" y="593.9" font-size="16.3" font-weight="bold" fill="#fff" text-anchor="middle" textLength="15.0" lengthAdjust="spacingAndGlyphs">11</text>
<circle cx="1482.6" cy="597.7" r="15.7" fill="#000" opacity="0.3" filter="url(#bl1)"/><circle cx="1482.0" cy="596.3" r="15.2" fill="#9f1a17"/><text x="1482.0" y="602.2" font-size="16.3" font-weight="bold" fill="#fff" text-anchor="middle" textLength="16.9" lengthAdjust="spacingAndGlyphs">12</text>
<circle cx="1578.9" cy="698.1" r="15.7" fill="#000" opacity="0.3" filter="url(#bl1)"/><circle cx="1578.3" cy="696.7" r="15.2" fill="#9f1a17"/><text x="1578.3" y="702.6" font-size="16.3" font-weight="bold" fill="#fff" text-anchor="middle" textLength="16.9" lengthAdjust="spacingAndGlyphs">10</text>
<circle cx="1661.9" cy="718.4" r="15.7" fill="#000" opacity="0.3" filter="url(#bl1)"/><circle cx="1661.3" cy="717.0" r="15.2" fill="#9f1a17"/><text x="1661.3" y="722.9" font-size="16.3" font-weight="bold" fill="#fff" text-anchor="middle" textLength="16.9" lengthAdjust="spacingAndGlyphs">30</text>
<circle cx="1367.3" cy="721.4" r="15.7" fill="#000" opacity="0.3" filter="url(#bl1)"/><circle cx="1366.7" cy="720.0" r="15.2" fill="#9f1a17"/><text x="1366.7" y="725.9" font-size="16.3" font-weight="bold" fill="#fff" text-anchor="middle" textLength="9.0" lengthAdjust="spacingAndGlyphs">9</text>
<circle cx="1494.9" cy="749.4" r="15.7" fill="#000" opacity="0.3" filter="url(#bl1)"/><circle cx="1494.3" cy="748.0" r="15.2" fill="#9f1a17"/><text x="1494.3" y="753.9" font-size="16.3" font-weight="bold" fill="#fff" text-anchor="middle" textLength="9.0" lengthAdjust="spacingAndGlyphs">7</text>
<circle cx="1184.3" cy="811.9" r="15.7" fill="#000" opacity="0.3" filter="url(#bl1)"/><circle cx="1183.7" cy="810.5" r="15.2" fill="#9f1a17"/><text x="1183.7" y="816.4" font-size="16.3" font-weight="bold" fill="#fff" text-anchor="middle" textLength="9.0" lengthAdjust="spacingAndGlyphs">8</text>
<circle cx="1271.1" cy="873.4" r="15.7" fill="#000" opacity="0.3" filter="url(#bl1)"/><circle cx="1270.5" cy="872.0" r="15.2" fill="#9f1a17"/><text x="1270.5" y="877.9" font-size="16.3" font-weight="bold" fill="#fff" text-anchor="middle" textLength="9.0" lengthAdjust="spacingAndGlyphs">5</text>
<circle cx="1351.9" cy="875.1" r="15.7" fill="#000" opacity="0.3" filter="url(#bl1)"/><circle cx="1351.3" cy="873.7" r="15.2" fill="#9f1a17"/><text x="1351.3" y="879.6" font-size="16.3" font-weight="bold" fill="#fff" text-anchor="middle" textLength="9.0" lengthAdjust="spacingAndGlyphs">4</text>
<circle cx="1413.1" cy="873.9" r="15.7" fill="#000" opacity="0.3" filter="url(#bl1)"/><circle cx="1412.5" cy="872.5" r="15.2" fill="#9f1a17"/><text x="1412.5" y="878.4" font-size="16.3" font-weight="bold" fill="#fff" text-anchor="middle" textLength="9.0" lengthAdjust="spacingAndGlyphs">6</text>
<circle cx="1413.9" cy="959.7" r="15.7" fill="#000" opacity="0.3" filter="url(#bl1)"/><circle cx="1413.3" cy="958.3" r="15.2" fill="#9f1a17"/><text x="1413.3" y="964.2" font-size="16.3" font-weight="bold" fill="#fff" text-anchor="middle" textLength="8.1" lengthAdjust="spacingAndGlyphs">1</text>
<circle cx="1561.1" cy="881.4" r="15.7" fill="#000" opacity="0.3" filter="url(#bl1)"/><circle cx="1560.5" cy="880.0" r="15.2" fill="#9f1a17"/><text x="1560.5" y="885.9" font-size="16.3" font-weight="bold" fill="#fff" text-anchor="middle" textLength="9.0" lengthAdjust="spacingAndGlyphs">2</text>
<circle cx="1677.3" cy="881.9" r="15.7" fill="#000" opacity="0.3" filter="url(#bl1)"/><circle cx="1676.7" cy="880.5" r="15.2" fill="#9f1a17"/><text x="1676.7" y="886.4" font-size="16.3" font-weight="bold" fill="#fff" text-anchor="middle" textLength="9.0" lengthAdjust="spacingAndGlyphs">3</text>
<g transform="translate(928.5,725) rotate(37)">
<circle r="33" fill="#fff" stroke="#27337e" stroke-width="1"/><circle r="26" fill="none" stroke="#c6ccd2" stroke-width="2.2"/><circle r="29.5" fill="none" stroke="#9aa4b8" stroke-width="0.6" stroke-dasharray="0.6 1.6"/>
<path d="M0,-24L3,-8L-3,-8Z" fill="#1f3a9a" transform="rotate(45)"/>
<path d="M0,-45L1.2,-33L-1.2,-33Z" fill="#5568b0" transform="rotate(45)"/>
<path d="M0,-24L3,-8L-3,-8Z" fill="#1f3a9a" transform="rotate(135)"/>
<path d="M0,-45L1.2,-33L-1.2,-33Z" fill="#5568b0" transform="rotate(135)"/>
<path d="M0,-24L3,-8L-3,-8Z" fill="#1f3a9a" transform="rotate(225)"/>
<path d="M0,-45L1.2,-33L-1.2,-33Z" fill="#5568b0" transform="rotate(225)"/>
<path d="M0,-24L3,-8L-3,-8Z" fill="#1f3a9a" transform="rotate(315)"/>
<path d="M0,-45L1.2,-33L-1.2,-33Z" fill="#5568b0" transform="rotate(315)"/>
<g transform="rotate(0)"><path d="M0,-47L0,0L-5,-5Z" fill="#8d9aa6"/><path d="M0,-47L0,0L5,-5Z" fill="#dfe5ea"/></g>
<g transform="rotate(90)"><path d="M0,-47L0,0L-5,-5Z" fill="#8d9aa6"/><path d="M0,-47L0,0L5,-5Z" fill="#dfe5ea"/></g>
<g transform="rotate(180)"><path d="M0,-47L0,0L-5,-5Z" fill="#8d9aa6"/><path d="M0,-47L0,0L5,-5Z" fill="#dfe5ea"/></g>
<g transform="rotate(270)"><path d="M0,-47L0,0L-5,-5Z" fill="#8d9aa6"/><path d="M0,-47L0,0L5,-5Z" fill="#dfe5ea"/></g>
</g>
<text x="959" y="685.5" font-size="9.5" font-weight="bold" font-style="italic" fill="#d8141c" text-anchor="middle" transform="rotate(37 959 682)">N</text>
<text x="885.5" y="698.5" font-size="9.5" font-weight="bold" font-style="italic" fill="#27337e" text-anchor="middle" transform="rotate(37 885.5 695)">O</text>
<text x="898" y="771.5" font-size="9.5" font-weight="bold" font-style="italic" fill="#27337e" text-anchor="middle" transform="rotate(37 898 768)">S</text>
<text x="970" y="756" font-size="9.5" font-weight="bold" font-style="italic" fill="#27337e" text-anchor="middle" transform="rotate(37 970 752.5)">L</text>
<path d="M921,691Q900,682 878,683.5" fill="none" stroke="#f5b417" stroke-width="2.4"/><path d="M870.5,683L880,677L878,683.5L881,689.5Z" fill="#f5b417"/>
<path d="M962,719Q978,735 985,759L983.5,759Q975,738 960.5,722Z" fill="#f5b417" stroke="#f5b417" stroke-width="1.2"/>
<circle cx="993.5" cy="770.5" r="7.6" fill="#fff" stroke="#f0922b" stroke-width="2.5"/>
<path d="M1005.1,767.4L1011.9,765.6" stroke="#f0922b" stroke-width="2.4" stroke-linecap="round"/>
<path d="M1004.4,775.6L1010.7,778.5" stroke="#f0922b" stroke-width="2.4" stroke-linecap="round"/>
<path d="M998.6,781.4L1001.5,787.7" stroke="#f0922b" stroke-width="2.4" stroke-linecap="round"/>
<path d="M990.4,782.1L988.6,788.9" stroke="#f0922b" stroke-width="2.4" stroke-linecap="round"/>
<path d="M983.7,777.4L977.9,781.4" stroke="#f0922b" stroke-width="2.4" stroke-linecap="round"/>
<path d="M981.5,769.5L974.6,768.8" stroke="#f0922b" stroke-width="2.4" stroke-linecap="round"/>
<path d="M985.0,762.0L980.1,757.1" stroke="#f0922b" stroke-width="2.4" stroke-linecap="round"/>
<path d="M992.5,758.5L991.8,751.6" stroke="#f0922b" stroke-width="2.4" stroke-linecap="round"/>
<path d="M1000.4,760.7L1004.4,754.9" stroke="#f0922b" stroke-width="2.4" stroke-linecap="round"/>
<rect x="1326.3" y="988.0" width="158.7" height="17.8" fill="#fde83a" />
<rect x="1326.3" y="1004.6" width="158.7" height="1.2" fill="#3a3a20" />
<text x="1405.5" y="1000" font-size="8.2" font-weight="bold" fill="#1a1a1a" text-anchor="middle" textLength="88" lengthAdjust="spacingAndGlyphs">Rua David Campista</text>
</svg>
</body></html>
